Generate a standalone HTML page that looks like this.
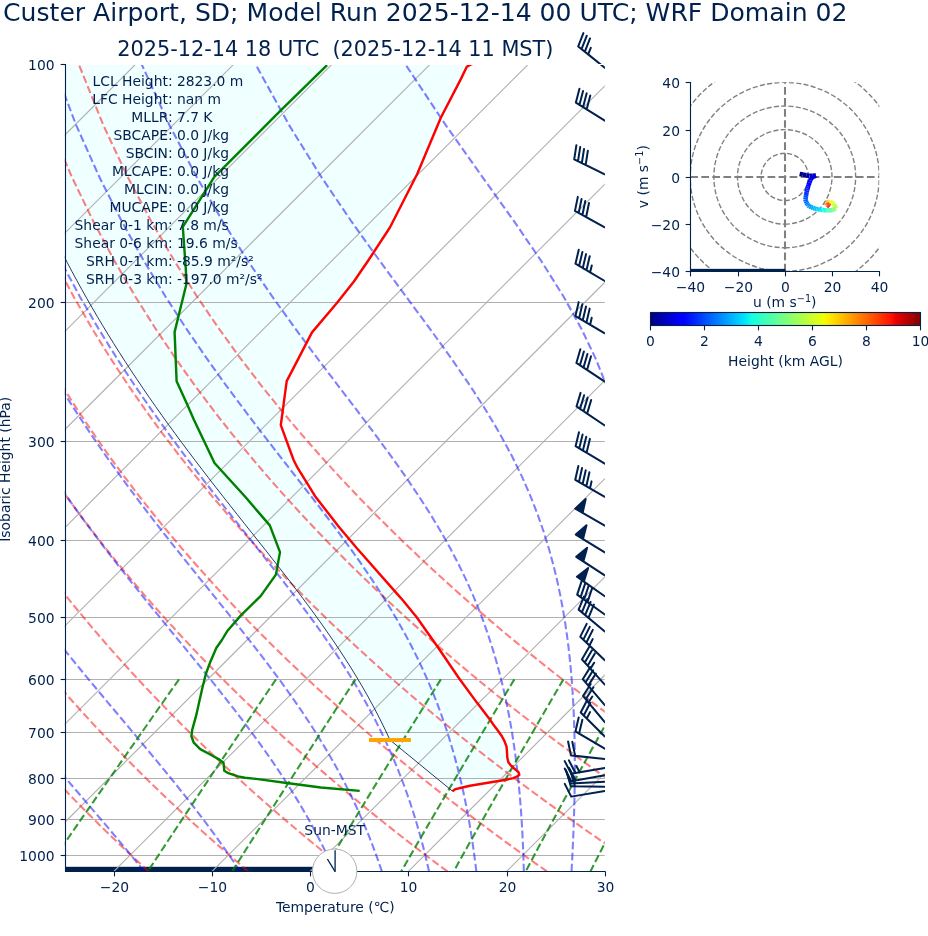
<!DOCTYPE html>
<html><head><meta charset="utf-8"><title>Skew-T</title><style>html,body{margin:0;padding:0;background:#fff;width:928px;height:936px;overflow:hidden}svg{display:block}</style></head><body>
<svg width="928" height="936" viewBox="0 0 928 936" font-family="'DejaVu Sans', 'Liberation Sans', sans-serif"><rect width="928" height="936" fill="#ffffff"/><defs><clipPath id="cs"><rect x="64.77" y="64.34" width="540" height="807.11"/></clipPath><clipPath id="cb"><rect x="550.77" y="-0.25" width="108" height="936.31"/></clipPath><clipPath id="ch"><rect x="690.2" y="82.4" width="189.1" height="188.5"/></clipPath></defs>
<g clip-path="url(#cs)">
<path d="M480 61.5 L474.4 63.33 L469.56 65.16 L466.71 66.99 L465.82 68.82 L464.94 70.64 L464.05 72.47 L463.17 74.3 L462.28 76.13 L461.4 77.96 L460.5 79.79 L459.55 81.62 L458.6 83.45 L457.65 85.27 L456.7 87.1 L455.75 88.93 L454.8 90.76 L453.85 92.59 L452.9 94.42 L451.95 96.25 L451 98.08 L450.05 99.91 L449.1 101.73 L448.15 103.56 L447.2 105.39 L446.24 107.22 L445.29 109.05 L444.34 110.88 L443.39 112.71 L442.44 114.54 L441.49 116.36 L440.59 118.19 L439.83 120.02 L439.06 121.85 L438.3 123.68 L437.53 125.51 L436.76 127.34 L436 129.17 L435.23 131 L434.47 132.82 L433.7 134.65 L432.94 136.48 L432.17 138.31 L431.4 140.14 L430.64 141.97 L429.87 143.8 L429.11 145.63 L428.34 147.45 L427.58 149.28 L426.81 151.11 L426.04 152.94 L425.28 154.77 L424.51 156.6 L423.75 158.43 L422.98 160.26 L422.21 162.09 L421.45 163.91 L420.68 165.74 L419.92 167.57 L419.15 169.4 L418.39 171.23 L417.62 173.06 L416.8 174.89 L415.86 176.72 L414.93 178.54 L413.99 180.37 L413.06 182.2 L412.12 184.03 L411.19 185.86 L410.25 187.69 L409.32 189.52 L408.38 191.35 L407.45 193.18 L406.51 195 L405.58 196.83 L404.64 198.66 L403.71 200.49 L402.77 202.32 L401.84 204.15 L400.9 205.98 L399.97 207.81 L399.03 209.63 L398.1 211.46 L397.16 213.29 L396.23 215.12 L395.29 216.95 L394.36 218.78 L393.42 220.61 L392.49 222.44 L391.55 224.27 L390.62 226.09 L389.62 227.92 L388.42 229.75 L387.23 231.58 L386.03 233.41 L384.83 235.24 L383.63 237.07 L382.43 238.9 L381.23 240.72 L380.03 242.55 L378.84 244.38 L377.64 246.21 L376.44 248.04 L375.24 249.87 L374.04 251.7 L372.84 253.53 L371.64 255.36 L370.45 257.18 L369.25 259.01 L368.02 260.84 L366.77 262.67 L365.52 264.5 L364.27 266.33 L363.02 268.16 L361.77 269.99 L360.52 271.81 L359.27 273.64 L358.02 275.47 L356.77 277.3 L355.52 279.13 L354.27 280.96 L352.88 282.79 L351.44 284.62 L349.99 286.45 L348.54 288.27 L347.1 290.1 L345.65 291.93 L344.21 293.76 L342.76 295.59 L341.31 297.42 L339.87 299.25 L338.42 301.08 L336.98 302.9 L335.43 304.73 L333.88 306.56 L332.33 308.39 L330.79 310.22 L329.24 312.05 L327.69 313.88 L326.14 315.71 L324.59 317.54 L323.04 319.36 L321.49 321.19 L319.94 323.02 L318.39 324.85 L316.85 326.68 L315.3 328.51 L313.75 330.34 L312.2 332.17 L311.17 333.99 L310.22 335.82 L309.27 337.65 L308.32 339.48 L307.37 341.31 L306.42 343.14 L305.47 344.97 L304.52 346.8 L303.57 348.63 L302.62 350.45 L301.67 352.28 L300.72 354.11 L299.77 355.94 L298.82 357.77 L297.87 359.6 L296.92 361.43 L295.97 363.26 L295.02 365.08 L294.07 366.91 L293.12 368.74 L292.17 370.57 L291.22 372.4 L290.27 374.23 L289.32 376.06 L288.37 377.89 L287.42 379.72 L286.64 381.54 L286.4 383.37 L286.15 385.2 L285.91 387.03 L285.66 388.86 L285.42 390.69 L285.17 392.52 L284.93 394.35 L284.68 396.17 L284.44 398 L284.19 399.83 L283.95 401.66 L283.7 403.49 L283.46 405.32 L283.22 407.15 L282.97 408.98 L282.73 410.81 L282.48 412.63 L282.24 414.46 L281.99 416.29 L281.75 418.12 L281.5 419.95 L281.26 421.78 L281.01 423.61 L280.89 425.44 L281.56 427.26 L282.23 429.09 L282.9 430.92 L283.58 432.75 L284.25 434.58 L284.92 436.41 L285.6 438.24 L286.27 440.07 L286.94 441.89 L287.61 443.72 L288.29 445.55 L288.96 447.38 L289.63 449.21 L290.3 451.04 L290.98 452.87 L291.65 454.7 L292.32 456.53 L292.99 458.35 L293.69 460.18 L294.61 462.01 L295.52 463.84 L296.43 465.67 L297.43 467.5 L298.56 469.33 L299.68 471.16 L300.81 472.98 L301.93 474.81 L303.06 476.64 L304.19 478.47 L305.31 480.3 L306.44 482.13 L307.56 483.96 L308.69 485.79 L309.82 487.62 L310.94 489.44 L312.07 491.27 L313.19 493.1 L314.32 494.93 L315.53 496.76 L316.95 498.59 L318.37 500.42 L319.78 502.25 L321.2 504.07 L322.62 505.9 L324.03 507.73 L325.45 509.56 L326.86 511.39 L328.28 513.22 L329.7 515.05 L331.11 516.88 L332.53 518.71 L333.95 520.53 L335.36 522.36 L336.78 524.19 L338.2 526.02 L339.68 527.85 L341.22 529.68 L342.76 531.51 L344.3 533.34 L345.84 535.16 L347.38 536.99 L348.92 538.82 L350.46 540.65 L352 542.48 L353.54 544.31 L355.08 546.14 L356.62 547.97 L358.22 549.8 L359.84 551.62 L361.45 553.45 L363.07 555.28 L364.68 557.11 L366.29 558.94 L367.91 560.77 L369.52 562.6 L371.14 564.43 L372.75 566.25 L374.37 568.08 L375.98 569.91 L377.6 571.74 L379.21 573.57 L380.83 575.4 L382.44 577.23 L384.06 579.06 L385.67 580.89 L387.29 582.71 L388.9 584.54 L390.52 586.37 L392.13 588.2 L393.75 590.03 L395.36 591.86 L396.98 593.69 L398.61 595.52 L400.24 597.34 L401.86 599.17 L403.42 601 L404.91 602.83 L406.4 604.66 L407.89 606.49 L409.38 608.32 L410.87 610.15 L412.36 611.98 L413.85 613.8 L415.34 615.63 L416.81 617.46 L418.11 619.29 L419.41 621.12 L420.71 622.95 L422 624.78 L423.3 626.61 L424.6 628.43 L425.9 630.26 L427.19 632.09 L428.49 633.92 L429.79 635.75 L431.08 637.58 L432.38 639.41 L433.68 641.24 L434.98 643.07 L436.27 644.89 L437.56 646.72 L438.8 648.55 L440.05 650.38 L441.29 652.21 L442.54 654.04 L443.79 655.87 L445.03 657.7 L446.28 659.52 L447.52 661.35 L448.77 663.18 L450.02 665.01 L451.26 666.84 L452.51 668.67 L453.75 670.5 L455 672.33 L456.24 674.16 L457.49 675.98 L458.74 677.81 L460.06 679.64 L461.4 681.47 L462.74 683.3 L464.08 685.13 L465.42 686.96 L466.77 688.79 L468.11 690.61 L469.45 692.44 L470.79 694.27 L472.13 696.1 L473.47 697.93 L474.82 699.76 L476.16 701.59 L477.53 703.42 L478.94 705.25 L480.35 707.07 L481.76 708.9 L483.17 710.73 L484.58 712.56 L485.99 714.39 L487.4 716.22 L488.81 718.05 L490.15 719.88 L491.38 721.7 L492.61 723.53 L493.84 725.36 L495.22 727.19 L496.63 729.02 L498.03 730.85 L499.34 732.68 L500.64 734.51 L501.88 736.34 L502.87 738.16 L503.85 739.99 L504.74 741.82 L505.44 743.65 L506.15 745.48 L506.58 747.31 L506.74 749.14 L506.9 750.97 L507.04 752.79 L507.14 754.62 L507.23 756.45 L507.45 758.28 L507.9 760.11 L508.36 761.94 L509.51 763.77 L510.98 765.6 L512.86 767.43 L515.14 769.25 L517.31 771.08 L518.73 772.91 L519.25 774.74 L516.74 776.57 L511.96 778.4 L502.91 780.23 L491.86 782.06 L480.89 783.88 L469.94 785.71 L462.12 787.54 L455.19 789.37 L452.4 791.2 L452.5 791.2 L450.27 789.37 L448.04 787.54 L445.8 785.71 L443.57 783.88 L441.34 782.06 L439.11 780.23 L436.87 778.4 L434.64 776.57 L432.41 774.74 L430.18 772.91 L427.94 771.08 L425.71 769.25 L423.48 767.43 L421.25 765.6 L419.01 763.77 L416.78 761.94 L414.55 760.11 L412.32 758.28 L410.08 756.45 L407.85 754.62 L405.62 752.79 L403.39 750.97 L401.15 749.14 L398.92 747.31 L396.69 745.48 L394.46 743.65 L392.22 741.82 L390 739.99 L389.14 738.16 L388.29 736.34 L387.43 734.51 L386.58 732.68 L385.72 730.85 L384.83 729.02 L383.94 727.19 L383.04 725.36 L382.15 723.53 L381.25 721.7 L380.32 719.88 L379.39 718.05 L378.46 716.22 L377.53 714.39 L376.59 712.56 L375.62 710.73 L374.65 708.9 L373.68 707.07 L372.71 705.25 L371.73 703.42 L370.72 701.59 L369.71 699.76 L368.7 697.93 L367.69 696.1 L366.67 694.27 L365.62 692.44 L364.58 690.61 L363.53 688.79 L362.48 686.96 L361.42 685.13 L360.33 683.3 L359.25 681.47 L358.16 679.64 L357.07 677.81 L355.97 675.98 L354.85 674.16 L353.72 672.33 L352.6 670.5 L351.48 668.67 L350.33 666.84 L349.17 665.01 L348.01 663.18 L346.85 661.35 L345.7 659.52 L344.51 657.7 L343.32 655.87 L342.12 654.04 L340.93 652.21 L339.73 650.38 L338.51 648.55 L337.28 646.72 L336.05 644.89 L334.83 643.07 L333.6 641.24 L332.34 639.41 L331.08 637.58 L329.82 635.75 L328.56 633.92 L327.3 632.09 L326.01 630.26 L324.72 628.43 L323.43 626.61 L322.14 624.78 L320.84 622.95 L319.53 621.12 L318.21 619.29 L316.89 617.46 L315.57 615.63 L314.25 613.8 L312.9 611.98 L311.56 610.15 L310.21 608.32 L308.87 606.49 L307.52 604.66 L306.15 602.83 L304.79 601 L303.42 599.17 L302.05 597.34 L300.68 595.52 L299.29 593.69 L297.9 591.86 L296.51 590.03 L295.12 588.2 L293.73 586.37 L292.33 584.54 L290.92 582.71 L289.51 580.89 L288.11 579.06 L286.7 577.23 L285.28 575.4 L283.86 573.57 L282.44 571.74 L281.01 569.91 L279.59 568.08 L278.16 566.25 L276.72 564.43 L275.29 562.6 L273.86 560.77 L272.42 558.94 L270.98 557.11 L269.54 555.28 L268.1 553.45 L266.66 551.62 L265.21 549.8 L263.77 547.97 L262.32 546.14 L260.87 544.31 L259.42 542.48 L257.97 540.65 L256.52 538.82 L255.07 536.99 L253.62 535.16 L252.17 533.34 L250.72 531.51 L249.27 529.68 L247.82 527.85 L246.37 526.02 L244.91 524.19 L243.46 522.36 L242.01 520.53 L240.56 518.71 L239.11 516.88 L237.66 515.05 L236.22 513.22 L234.77 511.39 L233.33 509.56 L231.88 507.73 L230.43 505.9 L228.99 504.07 L227.55 502.25 L226.11 500.42 L224.67 498.59 L223.24 496.76 L221.8 494.93 L220.37 493.1 L218.94 491.27 L217.51 489.44 L216.08 487.62 L214.66 485.79 L213.23 483.96 L211.81 482.13 L210.39 480.3 L208.97 478.47 L207.56 476.64 L206.15 474.81 L204.74 472.98 L203.33 471.16 L201.92 469.33 L200.53 467.5 L199.13 465.67 L197.73 463.84 L196.34 462.01 L194.94 460.18 L193.56 458.35 L192.18 456.53 L190.79 454.7 L189.41 452.87 L188.03 451.04 L186.67 449.21 L185.3 447.38 L183.93 445.55 L182.57 443.72 L181.21 441.89 L179.85 440.07 L178.5 438.24 L177.15 436.41 L175.8 434.58 L174.46 432.75 L173.13 430.92 L171.79 429.09 L170.46 427.26 L169.13 425.44 L167.8 423.61 L166.49 421.78 L165.17 419.95 L163.86 418.12 L162.54 416.29 L161.24 414.46 L159.94 412.63 L158.65 410.81 L157.35 408.98 L156.05 407.15 L154.77 405.32 L153.49 403.49 L152.22 401.66 L150.94 399.83 L149.66 398 L148.4 396.17 L147.14 394.35 L145.89 392.52 L144.63 390.69 L143.37 388.86 L142.13 387.03 L140.89 385.2 L139.66 383.37 L138.42 381.54 L137.18 379.72 L135.96 377.89 L134.75 376.06 L133.53 374.23 L132.31 372.4 L131.1 370.57 L129.9 368.74 L128.7 366.91 L127.51 365.08 L126.31 363.26 L125.12 361.43 L123.94 359.6 L122.76 357.77 L121.59 355.94 L120.41 354.11 L119.24 352.28 L118.09 350.45 L116.93 348.63 L115.78 346.8 L114.62 344.97 L113.47 343.14 L112.34 341.31 L111.21 339.48 L110.07 337.65 L108.94 335.82 L107.81 333.99 L106.7 332.17 L105.59 330.34 L104.47 328.51 L103.36 326.68 L102.26 324.85 L101.16 323.02 L100.07 321.19 L98.98 319.36 L97.89 317.54 L96.81 315.71 L95.74 313.88 L94.67 312.05 L93.6 310.22 L92.53 308.39 L91.47 306.56 L90.42 304.73 L89.37 302.9 L88.32 301.08 L87.27 299.25 L86.23 297.42 L85.21 295.59 L84.18 293.76 L83.15 291.93 L82.12 290.1 L81.11 288.27 L80.1 286.45 L79.09 284.62 L78.08 282.79 L77.08 280.96 L76.08 279.13 L75.1 277.3 L74.11 275.47 L73.12 273.64 L72.14 271.81 L71.17 269.99 L70.2 268.16 L69.24 266.33 L68.27 264.5 L67.3 262.67 L66.36 260.84 L65.41 259.01 L64.47 257.18 L63.52 255.36 L62.58 253.53 L61.65 251.7 L60.73 249.87 L59.8 248.04 L58.88 246.21 L57.95 244.38 L57.05 242.55 L56.14 240.72 L55.24 238.9 L54.34 237.07 L53.43 235.24 L52.55 233.41 L51.67 231.58 L50.78 229.75 L49.9 227.92 L49.02 226.09 L48.15 224.27 L47.29 222.44 L46.43 220.61 L45.56 218.78 L44.7 216.95 L43.86 215.12 L43.02 213.29 L42.17 211.46 L41.33 209.63 L40.49 207.81 L39.67 205.98 L38.84 204.15 L38.02 202.32 L37.19 200.49 L36.38 198.66 L35.57 196.83 L34.77 195 L33.97 193.18 L33.16 191.35 L32.37 189.52 L31.58 187.69 L30.8 185.86 L30.01 184.03 L29.23 182.2 L28.46 180.37 L27.69 178.54 L26.93 176.72 L26.16 174.89 L25.4 173.06 L24.64 171.23 L23.9 169.4 L23.15 167.57 L22.41 165.74 L21.66 163.91 L20.93 162.09 L20.2 160.26 L19.47 158.43 L18.75 156.6 L18.02 154.77 L17.31 152.94 L16.6 151.11 L15.9 149.28 L15.19 147.45 L14.48 145.63 L13.79 143.8 L13.1 141.97 L12.41 140.14 L11.72 138.31 L11.04 136.48 L10.36 134.65 L9.69 132.82 L9.03 131 L8.36 129.17 L7.69 127.34 L7.03 125.51 L6.38 123.68 L5.73 121.85 L5.08 120.02 L4.43 118.19 L3.8 116.36 L3.17 114.54 L2.53 112.71 L1.9 110.88 L1.27 109.05 L0.66 107.22 L0.04 105.39 L-0.57 103.56 L-1.18 101.73 L-1.79 99.91 L-2.39 98.08 L-2.99 96.25 L-3.58 94.42 L-4.18 92.59 L-4.77 90.76 L-5.35 88.93 L-5.92 87.1 L-6.5 85.27 L-7.08 83.45 L-7.65 81.62 L-8.21 79.79 L-8.77 77.96 L-9.33 76.13 L-9.89 74.3 L-10.44 72.47 L-10.98 70.64 L-11.53 68.82 L-12.07 66.99 L-12.61 65.16 L-13.14 63.33 L-13.67 61.5Z" fill="#f0ffff" stroke="none"/>
<rect x="65.5" y="866.8" width="269.2" height="4.7" fill="#00204e"/>
<path d="M-769.78 871.45 L37.33 64.34" fill="none" stroke="#b0b0b0" stroke-width="1.11" />
<path d="M-671.59 871.45 L135.52 64.34" fill="none" stroke="#b0b0b0" stroke-width="1.11" />
<path d="M-573.41 871.45 L233.7 64.34" fill="none" stroke="#b0b0b0" stroke-width="1.11" />
<path d="M-475.23 871.45 L331.88 64.34" fill="none" stroke="#b0b0b0" stroke-width="1.11" />
<path d="M-377.05 871.45 L430.06 64.34" fill="none" stroke="#b0b0b0" stroke-width="1.11" />
<path d="M-278.87 871.45 L528.24 64.34" fill="none" stroke="#b0b0b0" stroke-width="1.11" />
<path d="M-180.68 871.45 L626.43 64.34" fill="none" stroke="#b0b0b0" stroke-width="1.11" />
<path d="M-82.5 871.45 L724.61 64.34" fill="none" stroke="#b0b0b0" stroke-width="1.11" />
<path d="M15.68 871.45 L822.79 64.34" fill="none" stroke="#b0b0b0" stroke-width="1.11" />
<path d="M113.86 871.45 L920.97 64.34" fill="none" stroke="#b0b0b0" stroke-width="1.11" />
<path d="M212.04 871.45 L1019.15 64.34" fill="none" stroke="#b0b0b0" stroke-width="1.11" />
<path d="M310.22 871.45 L1117.33 64.34" fill="none" stroke="#b0b0b0" stroke-width="1.11" />
<path d="M408.41 871.45 L1215.52 64.34" fill="none" stroke="#b0b0b0" stroke-width="1.11" />
<path d="M506.59 871.45 L1313.7 64.34" fill="none" stroke="#b0b0b0" stroke-width="1.11" />
<path d="M604.77 871.45 L1411.88 64.34" fill="none" stroke="#b0b0b0" stroke-width="1.11" />
<path d="M65.5 64.5 L605.5 64.5" fill="none" stroke="#b0b0b0" stroke-width="1.11" />
<path d="M65.5 302.5 L605.5 302.5" fill="none" stroke="#b0b0b0" stroke-width="1.11" />
<path d="M65.5 441.5 L605.5 441.5" fill="none" stroke="#b0b0b0" stroke-width="1.11" />
<path d="M65.5 540.5 L605.5 540.5" fill="none" stroke="#b0b0b0" stroke-width="1.11" />
<path d="M65.5 617.5 L605.5 617.5" fill="none" stroke="#b0b0b0" stroke-width="1.11" />
<path d="M65.5 679.5 L605.5 679.5" fill="none" stroke="#b0b0b0" stroke-width="1.11" />
<path d="M65.5 732.5 L605.5 732.5" fill="none" stroke="#b0b0b0" stroke-width="1.11" />
<path d="M65.5 778.5 L605.5 778.5" fill="none" stroke="#b0b0b0" stroke-width="1.11" />
<path d="M65.5 819.5 L605.5 819.5" fill="none" stroke="#b0b0b0" stroke-width="1.11" />
<path d="M65.5 855.5 L605.5 855.5" fill="none" stroke="#b0b0b0" stroke-width="1.11" />
</g>
<g clip-path="url(#cs)">
<path d="M-50.37 871.45 L-56.3 865.06 L-62.27 858.54 L-68.3 851.89 L-74.37 845.12 L-80.48 838.21 L-86.65 831.15 L-92.86 823.95 L-99.13 816.59 L-105.44 809.07 L-111.81 801.39 L-118.23 793.52 L-124.71 785.48 L-131.24 777.24 L-137.83 768.79 L-144.47 760.14 L-151.17 751.26 L-157.93 742.14 L-164.75 732.78 L-171.63 723.15 L-178.57 713.25 L-185.57 703.05 L-192.64 692.54 L-199.77 681.69 L-206.96 670.5 L-214.21 658.92 L-221.53 646.94 L-228.91 634.53 L-236.35 621.65 L-243.85 608.27 L-251.41 594.35 L-259.03 579.84 L-266.7 564.69 L-274.42 548.84 L-282.18 532.22 L-289.97 514.75 L-297.79 496.35 L-305.62 476.91 L-313.44 456.3 L-321.23 434.37 L-328.96 410.94 L-336.58 385.8 L-344.05 358.66 L-351.28 329.2 L-358.18 296.97 L-364.59 261.4 L-370.29 221.71 L-374.97 176.82 L-378.12 125.17 L-378.86 64.34" fill="none" stroke="#ff0000" stroke-width="2.08" stroke-dasharray="7.71 3.33" stroke-opacity="0.5" />
<path d="M49.19 871.45 L42.73 865.06 L36.22 858.54 L29.66 851.89 L23.04 845.12 L16.36 838.21 L9.63 831.15 L2.84 823.95 L-4.01 816.59 L-10.92 809.07 L-17.89 801.39 L-24.93 793.52 L-32.02 785.48 L-39.19 777.24 L-46.42 768.79 L-53.72 760.14 L-61.09 751.26 L-68.53 742.14 L-76.04 732.78 L-83.63 723.15 L-91.29 713.25 L-99.04 703.05 L-106.85 692.54 L-114.75 681.69 L-122.73 670.5 L-130.79 658.92 L-138.94 646.94 L-147.17 634.53 L-155.48 621.65 L-163.88 608.27 L-172.36 594.35 L-180.93 579.84 L-189.57 564.69 L-198.3 548.84 L-207.11 532.22 L-215.99 514.75 L-224.93 496.35 L-233.93 476.91 L-242.97 456.3 L-252.03 434.37 L-261.1 410.94 L-270.13 385.8 L-279.08 358.66 L-287.88 329.2 L-296.46 296.97 L-304.67 261.4 L-312.32 221.71 L-319.13 176.82 L-324.62 125.17 L-328.01 64.34" fill="none" stroke="#ff0000" stroke-width="2.08" stroke-dasharray="7.71 3.33" stroke-opacity="0.5" />
<path d="M148.75 871.45 L141.76 865.06 L134.72 858.54 L127.61 851.89 L120.44 845.12 L113.2 838.21 L105.9 831.15 L98.54 823.95 L91.11 816.59 L83.6 809.07 L76.03 801.39 L68.38 793.52 L60.66 785.48 L52.86 777.24 L44.99 768.79 L37.03 760.14 L28.99 751.26 L20.87 742.14 L12.66 732.78 L4.37 723.15 L-4.02 713.25 L-12.5 703.05 L-21.07 692.54 L-29.74 681.69 L-38.51 670.5 L-47.38 658.92 L-56.35 646.94 L-65.43 634.53 L-74.61 621.65 L-83.9 608.27 L-93.31 594.35 L-102.82 579.84 L-112.45 564.69 L-122.19 548.84 L-132.04 532.22 L-142 514.75 L-152.07 496.35 L-162.24 476.91 L-172.5 456.3 L-182.84 434.37 L-193.24 410.94 L-203.67 385.8 L-214.11 358.66 L-224.49 329.2 L-234.74 296.97 L-244.75 261.4 L-254.35 221.71 L-263.29 176.82 L-271.13 125.17 L-277.16 64.34" fill="none" stroke="#ff0000" stroke-width="2.08" stroke-dasharray="7.71 3.33" stroke-opacity="0.5" />
<path d="M248.31 871.45 L240.79 865.06 L233.21 858.54 L225.56 851.89 L217.84 845.12 L210.05 838.21 L202.18 831.15 L194.24 823.95 L186.22 816.59 L178.12 809.07 L169.95 801.39 L161.69 793.52 L153.34 785.48 L144.91 777.24 L136.39 768.79 L127.78 760.14 L119.07 751.26 L110.27 742.14 L101.37 732.78 L92.36 723.15 L83.26 713.25 L74.04 703.05 L64.71 692.54 L55.27 681.69 L45.72 670.5 L36.04 658.92 L26.24 646.94 L16.32 634.53 L6.26 621.65 L-3.93 608.27 L-14.25 594.35 L-24.72 579.84 L-35.33 564.69 L-46.08 548.84 L-56.97 532.22 L-68.02 514.75 L-79.21 496.35 L-90.55 476.91 L-102.03 456.3 L-113.64 434.37 L-125.38 410.94 L-137.22 385.8 L-149.14 358.66 L-161.09 329.2 L-173.02 296.97 L-184.84 261.4 L-196.38 221.71 L-207.44 176.82 L-217.63 125.17 L-226.3 64.34" fill="none" stroke="#ff0000" stroke-width="2.08" stroke-dasharray="7.71 3.33" stroke-opacity="0.5" />
<path d="M347.87 871.45 L339.83 865.06 L331.71 858.54 L323.51 851.89 L315.24 845.12 L306.89 838.21 L298.45 831.15 L289.94 823.95 L281.34 816.59 L272.65 809.07 L263.87 801.39 L254.99 793.52 L246.03 785.48 L236.96 777.24 L227.8 768.79 L218.53 760.14 L209.15 751.26 L199.67 742.14 L190.07 732.78 L180.36 723.15 L170.53 713.25 L160.58 703.05 L150.5 692.54 L140.29 681.69 L129.94 670.5 L119.46 658.92 L108.83 646.94 L98.06 634.53 L87.13 621.65 L76.04 608.27 L64.8 594.35 L53.38 579.84 L41.8 564.69 L30.04 548.84 L18.09 532.22 L5.97 514.75 L-6.35 496.35 L-18.86 476.91 L-31.56 456.3 L-44.44 434.37 L-57.52 410.94 L-70.76 385.8 L-84.17 358.66 L-97.7 329.2 L-111.31 296.97 L-124.92 261.4 L-138.41 221.71 L-151.6 176.82 L-164.14 125.17 L-175.45 64.34" fill="none" stroke="#ff0000" stroke-width="2.08" stroke-dasharray="7.71 3.33" stroke-opacity="0.5" />
<path d="M447.43 871.45 L438.86 865.06 L430.2 858.54 L421.46 851.89 L412.64 845.12 L403.73 838.21 L394.73 831.15 L385.64 823.95 L376.45 816.59 L367.17 809.07 L357.79 801.39 L348.3 793.52 L338.71 785.48 L329.01 777.24 L319.2 768.79 L309.28 760.14 L299.24 751.26 L289.07 742.14 L278.78 732.78 L268.36 723.15 L257.81 713.25 L247.12 703.05 L236.28 692.54 L225.3 681.69 L214.17 670.5 L202.88 658.92 L191.42 646.94 L179.8 634.53 L168 621.65 L156.02 608.27 L143.85 594.35 L131.49 579.84 L118.92 564.69 L106.15 548.84 L93.16 532.22 L79.95 514.75 L66.51 496.35 L52.83 476.91 L38.91 456.3 L24.75 434.37 L10.34 410.94 L-4.31 385.8 L-19.2 358.66 L-34.3 329.2 L-49.59 296.97 L-65 261.4 L-80.44 221.71 L-95.75 176.82 L-110.65 125.17 L-124.6 64.34" fill="none" stroke="#ff0000" stroke-width="2.08" stroke-dasharray="7.71 3.33" stroke-opacity="0.5" />
<path d="M546.99 871.45 L537.89 865.06 L528.7 858.54 L519.42 851.89 L510.04 845.12 L500.57 838.21 L491.01 831.15 L481.34 823.95 L471.57 816.59 L461.69 809.07 L451.71 801.39 L441.61 793.52 L431.39 785.48 L421.06 777.24 L410.61 768.79 L400.03 760.14 L389.32 751.26 L378.47 742.14 L367.49 732.78 L356.36 723.15 L345.08 713.25 L333.65 703.05 L322.07 692.54 L310.31 681.69 L298.39 670.5 L286.29 658.92 L274.01 646.94 L261.54 634.53 L248.87 621.65 L235.99 608.27 L222.9 594.35 L209.59 579.84 L196.05 564.69 L182.26 548.84 L168.23 532.22 L153.93 514.75 L139.37 496.35 L124.52 476.91 L109.38 456.3 L93.95 434.37 L78.2 410.94 L62.14 385.8 L45.77 358.66 L29.1 329.2 L12.13 296.97 L-5.08 261.4 L-22.47 221.71 L-39.91 176.82 L-57.15 125.17 L-73.75 64.34" fill="none" stroke="#ff0000" stroke-width="2.08" stroke-dasharray="7.71 3.33" stroke-opacity="0.5" />
<path d="M646.55 871.45 L636.92 865.06 L627.19 858.54 L617.37 851.89 L607.44 845.12 L597.42 838.21 L587.28 831.15 L577.04 823.95 L566.68 816.59 L556.21 809.07 L545.63 801.39 L534.91 793.52 L524.08 785.48 L513.11 777.24 L502.01 768.79 L490.78 760.14 L479.4 751.26 L467.87 742.14 L456.19 732.78 L444.36 723.15 L432.36 713.25 L420.19 703.05 L407.85 692.54 L395.33 681.69 L382.62 670.5 L369.71 658.92 L356.6 646.94 L343.28 634.53 L329.74 621.65 L315.96 608.27 L301.95 594.35 L287.69 579.84 L273.17 564.69 L258.38 548.84 L243.3 532.22 L227.92 514.75 L212.23 496.35 L196.21 476.91 L179.85 456.3 L163.14 434.37 L146.06 410.94 L128.6 385.8 L110.74 358.66 L92.49 329.2 L73.85 296.97 L54.83 261.4 L35.5 221.71 L15.93 176.82 L-3.66 125.17 L-22.89 64.34" fill="none" stroke="#ff0000" stroke-width="2.08" stroke-dasharray="7.71 3.33" stroke-opacity="0.5" />
<path d="M746.11 871.45 L735.95 865.06 L725.69 858.54 L715.32 851.89 L704.84 845.12 L694.26 838.21 L683.56 831.15 L672.74 823.95 L661.8 816.59 L650.74 809.07 L639.54 801.39 L628.22 793.52 L616.76 785.48 L605.16 777.24 L593.42 768.79 L581.53 760.14 L569.48 751.26 L557.27 742.14 L544.9 732.78 L532.36 723.15 L519.64 713.25 L506.73 703.05 L493.64 692.54 L480.34 681.69 L466.84 670.5 L453.13 658.92 L439.19 646.94 L425.02 634.53 L410.61 621.65 L395.94 608.27 L381.01 594.35 L365.8 579.84 L350.29 564.69 L334.49 548.84 L318.36 532.22 L301.9 514.75 L285.09 496.35 L267.9 476.91 L250.32 456.3 L232.34 434.37 L213.92 410.94 L195.05 385.8 L175.71 358.66 L155.89 329.2 L135.57 296.97 L114.75 261.4 L93.47 221.71 L71.78 176.82 L49.84 125.17 L27.96 64.34" fill="none" stroke="#ff0000" stroke-width="2.08" stroke-dasharray="7.71 3.33" stroke-opacity="0.5" />
<path d="M845.67 871.45 L834.98 865.06 L824.18 858.54 L813.27 851.89 L802.25 845.12 L791.1 838.21 L779.83 831.15 L768.44 823.95 L756.91 816.59 L745.26 809.07 L733.46 801.39 L721.53 793.52 L709.45 785.48 L697.21 777.24 L684.83 768.79 L672.28 760.14 L659.56 751.26 L646.67 742.14 L633.61 732.78 L620.35 723.15 L606.91 713.25 L593.27 703.05 L579.42 692.54 L565.35 681.69 L551.07 670.5 L536.54 658.92 L521.78 646.94 L506.76 634.53 L491.47 621.65 L475.91 608.27 L460.06 594.35 L443.9 579.84 L427.42 564.69 L410.6 548.84 L393.43 532.22 L375.89 514.75 L357.95 496.35 L339.59 476.91 L320.79 456.3 L301.53 434.37 L281.78 410.94 L261.51 385.8 L240.68 358.66 L219.28 329.2 L197.28 296.97 L174.67 261.4 L151.44 221.71 L127.62 176.82 L103.33 125.17 L78.81 64.34" fill="none" stroke="#ff0000" stroke-width="2.08" stroke-dasharray="7.71 3.33" stroke-opacity="0.5" />
<path d="M-51.25 871.45 L-56.82 865.06 L-62.46 858.54 L-68.17 851.89 L-73.96 845.12 L-79.82 838.21 L-85.75 831.15 L-91.75 823.95 L-97.83 816.59 L-103.98 809.07 L-110.2 801.39 L-116.49 793.52 L-122.85 785.48 L-129.28 777.24 L-135.78 768.79 L-142.35 760.14 L-148.99 751.26 L-155.7 742.14 L-162.48 732.78 L-169.33 723.15 L-176.25 713.25 L-183.23 703.05 L-190.29 692.54 L-197.41 681.69 L-204.6 670.5 L-211.86 658.92 L-219.19 646.94 L-226.58 634.53 L-234.04 621.65 L-241.56 608.27 L-249.15 594.35 L-256.79 579.84 L-264.48 564.69 L-272.23 548.84 L-280.02 532.22 L-287.84 514.75 L-295.69 496.35 L-303.55 476.91 L-311.41 456.3 L-319.23 434.37 L-327 410.94 L-334.66 385.8 L-342.17 358.66 L-349.45 329.2 L-356.4 296.97 L-362.86 261.4 L-368.62 221.71 L-373.37 176.82 L-376.57 125.17 L-377.4 64.34" fill="none" stroke="#0000ff" stroke-width="2.08" stroke-dasharray="7.71 3.33" stroke-opacity="0.5" />
<path d="M47.06 871.45 L41.47 865.06 L35.78 858.54 L29.97 851.89 L24.05 845.12 L18.02 838.21 L11.89 831.15 L5.64 823.95 L-0.71 816.59 L-7.17 809.07 L-13.74 801.39 L-20.41 793.52 L-27.18 785.48 L-34.06 777.24 L-41.05 768.79 L-48.13 760.14 L-55.32 751.26 L-62.6 742.14 L-69.99 732.78 L-77.47 723.15 L-85.06 713.25 L-92.74 703.05 L-100.51 692.54 L-108.39 681.69 L-116.36 670.5 L-124.42 658.92 L-132.59 646.94 L-140.84 634.53 L-149.19 621.65 L-157.63 608.27 L-166.17 594.35 L-174.8 579.84 L-183.51 564.69 L-192.31 548.84 L-201.19 532.22 L-210.15 514.75 L-219.18 496.35 L-228.27 476.91 L-237.41 456.3 L-246.57 434.37 L-255.74 410.94 L-264.88 385.8 L-273.95 358.66 L-282.88 329.2 L-291.59 296.97 L-299.94 261.4 L-307.75 221.71 L-314.72 176.82 L-320.4 125.17 L-324 64.34" fill="none" stroke="#0000ff" stroke-width="2.08" stroke-dasharray="7.71 3.33" stroke-opacity="0.5" />
<path d="M144.24 871.45 L139.08 865.06 L133.76 858.54 L128.29 851.89 L122.66 845.12 L116.88 838.21 L110.94 831.15 L104.84 823.95 L98.58 816.59 L92.16 809.07 L85.59 801.39 L78.85 793.52 L71.95 785.48 L64.9 777.24 L57.68 768.79 L50.31 760.14 L42.79 751.26 L35.11 742.14 L27.29 732.78 L19.31 723.15 L11.18 713.25 L2.91 703.05 L-5.51 692.54 L-14.07 681.69 L-22.77 670.5 L-31.61 658.92 L-40.59 646.94 L-49.7 634.53 L-58.95 621.65 L-68.34 608.27 L-77.85 594.35 L-87.5 579.84 L-97.28 564.69 L-107.19 548.84 L-117.23 532.22 L-127.38 514.75 L-137.66 496.35 L-148.05 476.91 L-158.55 456.3 L-169.14 434.37 L-179.8 410.94 L-190.51 385.8 L-201.24 358.66 L-211.93 329.2 L-222.52 296.97 L-232.89 261.4 L-242.87 221.71 L-252.23 176.82 L-260.53 125.17 L-267.09 64.34" fill="none" stroke="#0000ff" stroke-width="2.08" stroke-dasharray="7.71 3.33" stroke-opacity="0.5" />
<path d="M240.04 871.45 L235.81 865.06 L231.42 858.54 L226.84 851.89 L222.09 845.12 L217.14 838.21 L212 831.15 L206.66 823.95 L201.12 816.59 L195.36 809.07 L189.38 801.39 L183.18 793.52 L176.75 785.48 L170.1 777.24 L163.21 768.79 L156.08 760.14 L148.72 751.26 L141.12 742.14 L133.28 732.78 L125.2 723.15 L116.89 713.25 L108.34 703.05 L99.56 692.54 L90.56 681.69 L81.32 670.5 L71.87 658.92 L62.2 646.94 L52.31 634.53 L42.21 621.65 L31.91 608.27 L21.4 594.35 L10.7 579.84 L-0.21 564.69 L-11.3 548.84 L-22.59 532.22 L-34.06 514.75 L-45.72 496.35 L-57.56 476.91 L-69.58 456.3 L-81.76 434.37 L-94.11 410.94 L-106.59 385.8 L-119.19 358.66 L-131.87 329.2 L-144.57 296.97 L-157.21 261.4 L-169.66 221.71 L-181.7 176.82 L-192.97 125.17 L-202.86 64.34" fill="none" stroke="#0000ff" stroke-width="2.08" stroke-dasharray="7.71 3.33" stroke-opacity="0.5" />
<path d="M334.72 871.45 L331.83 865.06 L328.8 858.54 L325.61 851.89 L322.26 845.12 L318.74 838.21 L315.03 831.15 L311.13 823.95 L307.02 816.59 L302.7 809.07 L298.15 801.39 L293.35 793.52 L288.3 785.48 L282.98 777.24 L277.38 768.79 L271.49 760.14 L265.28 751.26 L258.76 742.14 L251.9 732.78 L244.7 723.15 L237.15 713.25 L229.23 703.05 L220.95 692.54 L212.29 681.69 L203.25 670.5 L193.83 658.92 L184.04 646.94 L173.87 634.53 L163.33 621.65 L152.43 608.27 L141.17 594.35 L129.56 579.84 L117.62 564.69 L105.34 548.84 L92.74 532.22 L79.83 514.75 L66.61 496.35 L53.09 476.91 L39.29 456.3 L25.2 434.37 L10.84 410.94 L-3.79 385.8 L-18.67 358.66 L-33.77 329.2 L-49.07 296.97 L-64.49 261.4 L-79.95 221.71 L-95.28 176.82 L-110.19 125.17 L-124.17 64.34" fill="none" stroke="#0000ff" stroke-width="2.08" stroke-dasharray="7.71 3.33" stroke-opacity="0.5" />
<path d="M381.87 871.45 L379.71 865.06 L377.44 858.54 L375.03 851.89 L372.49 845.12 L369.81 838.21 L366.97 831.15 L363.96 823.95 L360.77 816.59 L357.39 809.07 L353.81 801.39 L350.01 793.52 L345.97 785.48 L341.69 777.24 L337.13 768.79 L332.29 760.14 L327.14 751.26 L321.67 742.14 L315.86 732.78 L309.68 723.15 L303.12 713.25 L296.15 703.05 L288.76 692.54 L280.92 681.69 L272.63 670.5 L263.86 658.92 L254.61 646.94 L244.87 634.53 L234.63 621.65 L223.9 608.27 L212.67 594.35 L200.95 579.84 L188.75 564.69 L176.08 548.84 L162.96 532.22 L149.4 514.75 L135.41 496.35 L121.01 476.91 L106.22 456.3 L91.04 434.37 L75.49 410.94 L59.58 385.8 L43.32 358.66 L26.73 329.2 L9.85 296.97 L-7.29 261.4 L-24.6 221.71 L-41.96 176.82 L-59.11 125.17 L-75.61 64.34" fill="none" stroke="#0000ff" stroke-width="2.08" stroke-dasharray="7.71 3.33" stroke-opacity="0.5" />
<path d="M429.05 871.45 L427.61 865.06 L426.08 858.54 L424.46 851.89 L422.73 845.12 L420.89 838.21 L418.93 831.15 L416.84 823.95 L414.62 816.59 L412.24 809.07 L409.7 801.39 L406.98 793.52 L404.07 785.48 L400.95 777.24 L397.61 768.79 L394.03 760.14 L390.18 751.26 L386.04 742.14 L381.6 732.78 L376.81 723.15 L371.67 713.25 L366.12 703.05 L360.16 692.54 L353.73 681.69 L346.82 670.5 L339.38 658.92 L331.39 646.94 L322.81 634.53 L313.62 621.65 L303.78 608.27 L293.29 594.35 L282.12 579.84 L270.28 564.69 L257.75 548.84 L244.55 532.22 L230.68 514.75 L216.18 496.35 L201.07 476.91 L185.36 456.3 L169.08 434.37 L152.26 410.94 L134.93 385.8 L117.1 358.66 L98.8 329.2 L80.04 296.97 L60.88 261.4 L41.36 221.71 L21.59 176.82 L1.76 125.17 L-17.74 64.34" fill="none" stroke="#0000ff" stroke-width="2.08" stroke-dasharray="7.71 3.33" stroke-opacity="0.5" />
<path d="M476.35 871.45 L475.58 865.06 L474.75 858.54 L473.86 851.89 L472.9 845.12 L471.86 838.21 L470.74 831.15 L469.54 823.95 L468.23 816.59 L466.83 809.07 L465.3 801.39 L463.66 793.52 L461.88 785.48 L459.94 777.24 L457.85 768.79 L455.57 760.14 L453.1 751.26 L450.41 742.14 L447.49 732.78 L444.3 723.15 L440.82 713.25 L437.01 703.05 L432.86 692.54 L428.31 681.69 L423.33 670.5 L417.87 658.92 L411.88 646.94 L405.32 634.53 L398.12 621.65 L390.23 608.27 L381.59 594.35 L372.14 579.84 L361.82 564.69 L350.6 548.84 L338.42 532.22 L325.28 514.75 L311.15 496.35 L296.04 476.91 L279.97 456.3 L262.97 434.37 L245.1 410.94 L226.39 385.8 L206.9 358.66 L186.66 329.2 L165.74 296.97 L144.15 261.4 L121.97 221.71 L99.26 176.82 L76.17 125.17 L53 64.34" fill="none" stroke="#0000ff" stroke-width="2.08" stroke-dasharray="7.71 3.33" stroke-opacity="0.5" />
<path d="M523.84 871.45 L523.67 865.06 L523.47 858.54 L523.23 851.89 L522.96 845.12 L522.64 838.21 L522.28 831.15 L521.87 823.95 L521.4 816.59 L520.87 809.07 L520.27 801.39 L519.6 793.52 L518.85 785.48 L518.01 777.24 L517.06 768.79 L516.01 760.14 L514.83 751.26 L513.52 742.14 L512.06 732.78 L510.42 723.15 L508.59 713.25 L506.55 703.05 L504.27 692.54 L501.72 681.69 L498.87 670.5 L495.67 658.92 L492.07 646.94 L488.04 634.53 L483.5 621.65 L478.39 608.27 L472.63 594.35 L466.13 579.84 L458.8 564.69 L450.53 548.84 L441.21 532.22 L430.72 514.75 L418.95 496.35 L405.79 476.91 L391.18 456.3 L375.05 434.37 L357.39 410.94 L338.23 385.8 L317.64 358.66 L295.71 329.2 L272.54 296.97 L248.23 261.4 L222.87 221.71 L196.56 176.82 L169.42 125.17 L141.65 64.34" fill="none" stroke="#0000ff" stroke-width="2.08" stroke-dasharray="7.71 3.33" stroke-opacity="0.5" />
<path d="M571.54 871.45 L571.89 865.06 L572.23 858.54 L572.56 851.89 L572.88 845.12 L573.18 838.21 L573.47 831.15 L573.73 823.95 L573.98 816.59 L574.2 809.07 L574.4 801.39 L574.56 793.52 L574.69 785.48 L574.77 777.24 L574.82 768.79 L574.81 760.14 L574.75 751.26 L574.62 742.14 L574.41 732.78 L574.12 723.15 L573.74 713.25 L573.24 703.05 L572.62 692.54 L571.86 681.69 L570.93 670.5 L569.81 658.92 L568.47 646.94 L566.87 634.53 L564.98 621.65 L562.74 608.27 L560.1 594.35 L556.98 579.84 L553.3 564.69 L548.95 548.84 L543.82 532.22 L537.75 514.75 L530.58 496.35 L522.09 476.91 L512.06 456.3 L500.23 434.37 L486.34 410.94 L470.15 385.8 L451.46 358.66 L430.19 329.2 L406.35 296.97 L380.09 261.4 L351.63 221.71 L321.23 176.82 L289.13 125.17 L255.56 64.34" fill="none" stroke="#0000ff" stroke-width="2.08" stroke-dasharray="7.71 3.33" stroke-opacity="0.5" />
<path d="M619.48 871.45 L620.26 865.06 L621.06 858.54 L621.85 851.89 L622.66 845.12 L623.47 838.21 L624.29 831.15 L625.12 823.95 L625.95 816.59 L626.79 809.07 L627.63 801.39 L628.47 793.52 L629.31 785.48 L630.15 777.24 L630.99 768.79 L631.83 760.14 L632.66 751.26 L633.48 742.14 L634.28 732.78 L635.07 723.15 L635.83 713.25 L636.57 703.05 L637.28 692.54 L637.94 681.69 L638.54 670.5 L639.09 658.92 L639.56 646.94 L639.93 634.53 L640.19 621.65 L640.31 608.27 L640.27 594.35 L640.02 579.84 L639.52 564.69 L638.71 548.84 L637.53 532.22 L635.87 514.75 L633.63 496.35 L630.66 476.91 L626.76 456.3 L621.68 434.37 L615.1 410.94 L606.61 385.8 L595.66 358.66 L581.63 329.2 L563.81 296.97 L541.52 261.4 L514.34 221.71 L482.26 176.82 L445.73 125.17 L405.45 64.34" fill="none" stroke="#0000ff" stroke-width="2.08" stroke-dasharray="7.71 3.33" stroke-opacity="0.5" />
<path d="M667.64 871.45 L668.77 865.06 L669.93 858.54 L671.11 851.89 L672.31 845.12 L673.53 838.21 L674.78 831.15 L676.05 823.95 L677.34 816.59 L678.66 809.07 L680.01 801.39 L681.39 793.52 L682.79 785.48 L684.22 777.24 L685.68 768.79 L687.16 760.14 L688.68 751.26 L690.22 742.14 L691.8 732.78 L693.41 723.15 L695.04 713.25 L696.71 703.05 L698.4 692.54 L700.13 681.69 L701.88 670.5 L703.65 658.92 L705.45 646.94 L707.26 634.53 L709.09 621.65 L710.93 608.27 L712.77 594.35 L714.6 579.84 L716.4 564.69 L718.16 548.84 L719.85 532.22 L721.44 514.75 L722.89 496.35 L724.14 476.91 L725.11 456.3 L725.7 434.37 L725.75 410.94 L725.05 385.8 L723.29 358.66 L720.01 329.2 L714.55 296.97 L705.9 261.4 L692.56 221.71 L672.45 176.82 L643.19 125.17 L603.05 64.34" fill="none" stroke="#0000ff" stroke-width="2.08" stroke-dasharray="7.71 3.33" stroke-opacity="0.5" />
<path d="M716 871.45 L717.41 865.06 L718.85 858.54 L720.32 851.89 L721.83 845.12 L723.37 838.21 L724.95 831.15 L726.56 823.95 L728.22 816.59 L729.91 809.07 L731.65 801.39 L733.43 793.52 L735.25 785.48 L737.13 777.24 L739.05 768.79 L741.02 760.14 L743.05 751.26 L745.14 742.14 L747.29 732.78 L749.49 723.15 L751.76 713.25 L754.11 703.05 L756.52 692.54 L759 681.69 L761.57 670.5 L764.22 658.92 L766.95 646.94 L769.77 634.53 L772.69 621.65 L775.71 608.27 L778.83 594.35 L782.07 579.84 L785.41 564.69 L788.87 548.84 L792.46 532.22 L796.17 514.75 L800 496.35 L803.95 476.91 L808.03 456.3 L812.2 434.37 L816.46 410.94 L820.76 385.8 L825.03 358.66 L829.16 329.2 L832.96 296.97 L836.11 261.4 L838.04 221.71 L837.7 176.82 L833.07 125.17 L820.14 64.34" fill="none" stroke="#0000ff" stroke-width="2.08" stroke-dasharray="7.71 3.33" stroke-opacity="0.5" />
<path d="M764.54 871.45 L766.16 865.06 L767.81 858.54 L769.51 851.89 L771.25 845.12 L773.03 838.21 L774.85 831.15 L776.72 823.95 L778.64 816.59 L780.62 809.07 L782.64 801.39 L784.72 793.52 L786.86 785.48 L789.06 777.24 L791.32 768.79 L793.65 760.14 L796.06 751.26 L798.53 742.14 L801.09 732.78 L803.73 723.15 L806.45 713.25 L809.27 703.05 L812.19 692.54 L815.21 681.69 L818.34 670.5 L821.59 658.92 L824.97 646.94 L828.48 634.53 L832.14 621.65 L835.95 608.27 L839.93 594.35 L844.09 579.84 L848.44 564.69 L853.01 548.84 L857.8 532.22 L862.84 514.75 L868.16 496.35 L873.78 476.91 L879.72 456.3 L886.02 434.37 L892.73 410.94 L899.88 385.8 L907.52 358.66 L915.71 329.2 L924.49 296.97 L933.92 261.4 L944.02 221.71 L954.76 176.82 L965.94 125.17 L976.9 64.34" fill="none" stroke="#0000ff" stroke-width="2.08" stroke-dasharray="7.71 3.33" stroke-opacity="0.5" />
<path d="M813.22 871.45 L815 865.06 L816.81 858.54 L818.67 851.89 L820.57 845.12 L822.53 838.21 L824.53 831.15 L826.59 823.95 L828.7 816.59 L830.87 809.07 L833.11 801.39 L835.4 793.52 L837.76 785.48 L840.19 777.24 L842.7 768.79 L845.28 760.14 L847.94 751.26 L850.69 742.14 L853.53 732.78 L856.47 723.15 L859.51 713.25 L862.66 703.05 L865.93 692.54 L869.31 681.69 L872.83 670.5 L876.49 658.92 L880.3 646.94 L884.28 634.53 L888.42 621.65 L892.76 608.27 L897.3 594.35 L902.06 579.84 L907.06 564.69 L912.33 548.84 L917.89 532.22 L923.77 514.75 L930 496.35 L936.63 476.91 L943.7 456.3 L951.27 434.37 L959.4 410.94 L968.18 385.8 L977.7 358.66 L988.09 329.2 L999.51 296.97 L1012.14 261.4 L1026.24 221.71 L1042.17 176.82 L1060.37 125.17 L1081.5 64.34" fill="none" stroke="#0000ff" stroke-width="2.08" stroke-dasharray="7.71 3.33" stroke-opacity="0.5" />
<path d="M179.02 679.37 L175.34 684.58 L171.73 689.72 L168.16 694.78 L164.65 699.76 L161.2 704.68 L157.79 709.52 L154.43 714.3 L151.12 719.02 L147.86 723.67 L144.65 728.25 L141.47 732.78 L138.34 737.25 L135.26 741.66 L132.21 746.01 L129.2 750.31 L126.23 754.56 L123.3 758.75 L120.41 762.9 L117.55 766.99 L114.73 771.04 L111.94 775.03 L109.19 778.99 L106.47 782.9 L103.78 786.76 L101.12 790.58 L98.49 794.36 L95.89 798.1 L93.32 801.8 L90.78 805.45 L88.27 809.07 L85.78 812.65 L83.32 816.2 L80.89 819.71 L78.49 823.18 L76.1 826.62 L73.75 830.02 L71.41 833.39 L69.11 836.73 L66.82 840.04 L64.56 843.31 L62.32 846.56 L60.1 849.77 L57.9 852.95 L55.73 856.11 L53.57 859.23 L51.43 862.33 L49.32 865.4 L47.22 868.44 L45.15 871.45" fill="none" stroke="#008000" stroke-width="2.08" stroke-dasharray="7.71 3.33" stroke-opacity="0.8" />
<path d="M275.98 679.37 L272.45 684.58 L268.98 689.72 L265.56 694.78 L262.19 699.76 L258.87 704.68 L255.61 709.52 L252.39 714.3 L249.21 719.02 L246.08 723.67 L243 728.25 L239.96 732.78 L236.96 737.25 L234 741.66 L231.08 746.01 L228.2 750.31 L225.35 754.56 L222.55 758.75 L219.77 762.9 L217.04 766.99 L214.33 771.04 L211.66 775.03 L209.03 778.99 L206.42 782.9 L203.84 786.76 L201.3 790.58 L198.78 794.36 L196.3 798.1 L193.84 801.8 L191.41 805.45 L189 809.07 L186.62 812.65 L184.27 816.2 L181.94 819.71 L179.64 823.18 L177.37 826.62 L175.11 830.02 L172.88 833.39 L170.67 836.73 L168.49 840.04 L166.32 843.31 L164.18 846.56 L162.06 849.77 L159.96 852.95 L157.88 856.11 L155.82 859.23 L153.78 862.33 L151.76 865.4 L149.76 868.44 L147.78 871.45" fill="none" stroke="#008000" stroke-width="2.08" stroke-dasharray="7.71 3.33" stroke-opacity="0.8" />
<path d="M355.48 679.37 L352.08 684.58 L348.73 689.72 L345.43 694.78 L342.19 699.76 L338.99 704.68 L335.84 709.52 L332.74 714.3 L329.68 719.02 L326.67 723.67 L323.7 728.25 L320.77 732.78 L317.88 737.25 L315.03 741.66 L312.22 746.01 L309.44 750.31 L306.71 754.56 L304 758.75 L301.34 762.9 L298.7 766.99 L296.1 771.04 L293.53 775.03 L290.99 778.99 L288.49 782.9 L286.01 786.76 L283.56 790.58 L281.14 794.36 L278.75 798.1 L276.38 801.8 L274.05 805.45 L271.74 809.07 L269.45 812.65 L267.19 816.2 L264.95 819.71 L262.74 823.18 L260.55 826.62 L258.39 830.02 L256.24 833.39 L254.12 836.73 L252.02 840.04 L249.95 843.31 L247.89 846.56 L245.85 849.77 L243.83 852.95 L241.84 856.11 L239.86 859.23 L237.9 862.33 L235.96 865.4 L234.04 868.44 L232.14 871.45" fill="none" stroke="#008000" stroke-width="2.08" stroke-dasharray="7.71 3.33" stroke-opacity="0.8" />
<path d="M440.84 679.37 L437.58 684.58 L434.37 689.72 L431.21 694.78 L428.1 699.76 L425.04 704.68 L422.02 709.52 L419.05 714.3 L416.12 719.02 L413.24 723.67 L410.39 728.25 L407.59 732.78 L404.82 737.25 L402.1 741.66 L399.4 746.01 L396.75 750.31 L394.13 754.56 L391.55 758.75 L388.99 762.9 L386.47 766.99 L383.99 771.04 L381.53 775.03 L379.1 778.99 L376.71 782.9 L374.34 786.76 L372 790.58 L369.69 794.36 L367.4 798.1 L365.14 801.8 L362.91 805.45 L360.7 809.07 L358.52 812.65 L356.36 816.2 L354.22 819.71 L352.11 823.18 L350.02 826.62 L347.95 830.02 L345.91 833.39 L343.88 836.73 L341.88 840.04 L339.9 843.31 L337.94 846.56 L335.99 849.77 L334.07 852.95 L332.17 856.11 L330.28 859.23 L328.41 862.33 L326.56 865.4 L324.73 868.44 L322.92 871.45" fill="none" stroke="#008000" stroke-width="2.08" stroke-dasharray="7.71 3.33" stroke-opacity="0.8" />
<path d="M514.35 679.37 L511.21 684.58 L508.13 689.72 L505.09 694.78 L502.1 699.76 L499.16 704.68 L496.26 709.52 L493.4 714.3 L490.59 719.02 L487.82 723.67 L485.09 728.25 L482.39 732.78 L479.74 737.25 L477.12 741.66 L474.54 746.01 L471.99 750.31 L469.47 754.56 L466.99 758.75 L464.54 762.9 L462.13 766.99 L459.74 771.04 L457.39 775.03 L455.06 778.99 L452.76 782.9 L450.49 786.76 L448.25 790.58 L446.03 794.36 L443.84 798.1 L441.68 801.8 L439.54 805.45 L437.42 809.07 L435.33 812.65 L433.26 816.2 L431.22 819.71 L429.19 823.18 L427.19 826.62 L425.21 830.02 L423.25 833.39 L421.32 836.73 L419.4 840.04 L417.5 843.31 L415.62 846.56 L413.76 849.77 L411.92 852.95 L410.1 856.11 L408.3 859.23 L406.51 862.33 L404.74 865.4 L402.99 868.44 L401.26 871.45" fill="none" stroke="#008000" stroke-width="2.08" stroke-dasharray="7.71 3.33" stroke-opacity="0.8" />
<path d="M563.43 679.37 L560.38 684.58 L557.38 689.72 L554.42 694.78 L551.52 699.76 L548.65 704.68 L545.84 709.52 L543.06 714.3 L540.33 719.02 L537.63 723.67 L534.98 728.25 L532.36 732.78 L529.78 737.25 L527.24 741.66 L524.73 746.01 L522.25 750.31 L519.81 754.56 L517.4 758.75 L515.02 762.9 L512.68 766.99 L510.36 771.04 L508.07 775.03 L505.81 778.99 L503.58 782.9 L501.38 786.76 L499.2 790.58 L497.05 794.36 L494.93 798.1 L492.83 801.8 L490.75 805.45 L488.7 809.07 L486.67 812.65 L484.67 816.2 L482.68 819.71 L480.72 823.18 L478.78 826.62 L476.86 830.02 L474.96 833.39 L473.09 836.73 L471.23 840.04 L469.39 843.31 L467.57 846.56 L465.77 849.77 L463.98 852.95 L462.22 856.11 L460.47 859.23 L458.74 862.33 L457.03 865.4 L455.33 868.44 L453.65 871.45" fill="none" stroke="#008000" stroke-width="2.08" stroke-dasharray="7.71 3.33" stroke-opacity="0.8" />
<path d="M630.77 679.37 L627.84 684.58 L624.95 689.72 L622.12 694.78 L619.33 699.76 L616.58 704.68 L613.88 709.52 L611.21 714.3 L608.59 719.02 L606.01 723.67 L603.46 728.25 L600.95 732.78 L598.48 737.25 L596.04 741.66 L593.63 746.01 L591.26 750.31 L588.92 754.56 L586.61 758.75 L584.33 762.9 L582.08 766.99 L579.87 771.04 L577.68 775.03 L575.51 778.99 L573.38 782.9 L571.27 786.76 L569.18 790.58 L567.13 794.36 L565.09 798.1 L563.08 801.8 L561.1 805.45 L559.14 809.07 L557.2 812.65 L555.28 816.2 L553.38 819.71 L551.51 823.18 L549.65 826.62 L547.82 830.02 L546 833.39 L544.21 836.73 L542.43 840.04 L540.68 843.31 L538.94 846.56 L537.22 849.77 L535.52 852.95 L533.83 856.11 L532.16 859.23 L530.51 862.33 L528.87 865.4 L527.25 868.44 L525.65 871.45" fill="none" stroke="#008000" stroke-width="2.08" stroke-dasharray="7.71 3.33" stroke-opacity="0.8" />
<path d="M691.22 679.37 L688.4 684.58 L685.63 689.72 L682.9 694.78 L680.22 699.76 L677.58 704.68 L674.98 709.52 L672.42 714.3 L669.9 719.02 L667.42 723.67 L664.97 728.25 L662.56 732.78 L660.18 737.25 L657.84 741.66 L655.53 746.01 L653.25 750.31 L651.01 754.56 L648.79 758.75 L646.61 762.9 L644.45 766.99 L642.32 771.04 L640.22 775.03 L638.14 778.99 L636.1 782.9 L634.07 786.76 L632.08 790.58 L630.1 794.36 L628.16 798.1 L626.23 801.8 L624.33 805.45 L622.45 809.07 L620.59 812.65 L618.75 816.2 L616.94 819.71 L615.14 823.18 L613.37 826.62 L611.61 830.02 L609.87 833.39 L608.16 836.73 L606.46 840.04 L604.78 843.31 L603.11 846.56 L601.47 849.77 L599.84 852.95 L598.23 856.11 L596.63 859.23 L595.05 862.33 L593.49 865.4 L591.94 868.44 L590.41 871.45" fill="none" stroke="#008000" stroke-width="2.08" stroke-dasharray="7.71 3.33" stroke-opacity="0.8" />
<path d="M735.34 679.37 L732.61 684.58 L729.92 689.72 L727.27 694.78 L724.67 699.76 L722.1 704.68 L719.58 709.52 L717.1 714.3 L714.65 719.02 L712.25 723.67 L709.87 728.25 L707.54 732.78 L705.23 737.25 L702.96 741.66 L700.72 746.01 L698.52 750.31 L696.34 754.56 L694.2 758.75 L692.08 762.9 L689.99 766.99 L687.93 771.04 L685.89 775.03 L683.89 778.99 L681.9 782.9 L679.95 786.76 L678.01 790.58 L676.1 794.36 L674.22 798.1 L672.35 801.8 L670.51 805.45 L668.7 809.07 L666.9 812.65 L665.12 816.2 L663.37 819.71 L661.63 823.18 L659.91 826.62 L658.22 830.02 L656.54 833.39 L654.88 836.73 L653.24 840.04 L651.61 843.31 L650 846.56 L648.41 849.77 L646.84 852.95 L645.28 856.11 L643.74 859.23 L642.22 862.33 L640.71 865.4 L639.21 868.44 L637.73 871.45" fill="none" stroke="#008000" stroke-width="2.08" stroke-dasharray="7.71 3.33" stroke-opacity="0.8" />
</g>
<g clip-path="url(#cs)" stroke-linejoin="round">
<path d="M480 61.5 L470.5 64.6 L466.8 66.8 L460.7 79.4 L440.8 117.7 L417.1 174.3 L389.9 227.5 L368.6 260 L353.9 281.5 L336.9 303 L312 332.4 L286.7 381.1 L280.8 425.2 L293.6 460 L297 466.8 L315.1 496.2 L338.8 526.8 L356.9 548.3 L396.9 593.6 L402.6 600 L416.7 617.3 L437.2 646.2 L459 678.2 L476.9 702.6 L489.7 719.2 L494 725.6 L498 730.8 L501.7 736 L504.5 741.2 L506.5 746.4 L507 752.1 L507.3 757.7 L508.5 762.5 L511.7 766.5 L515.7 769.7 L518.5 772.1 L519.3 774.9 L516.9 776.5 L513.3 778.1 L506.1 779.7 L494 781.7 L482 783.7 L470 785.7 L462.3 787.5 L455.6 789.1 L452.4 791.2" fill="none" stroke="#ff0000" stroke-width="2.43" />
<path d="M327.1 65.1 L281 110.2 L218.6 172.6 L214.5 176.7 L182.8 226.9 L185.8 268.7 L186.4 284 L174.6 332.1 L176.6 381.3 L186.9 403.8 L194 420 L214.5 463 L245.2 496.8 L269.8 525.4 L280 552.1 L275.9 574.6 L260.6 596.1 L241.1 615.1 L227.1 631.3 L221.9 640 L216.3 648 L210.7 660.9 L205.9 673.7 L202.7 686.5 L199.4 701 L196.2 715.4 L192.2 729.9 L191.4 736.3 L193.8 742.7 L200.2 749.1 L210.7 754.8 L219.5 759.6 L223.5 762.8 L224.3 770.8 L228.3 773.2 L238 776.4 L245 777.7 L256.2 778.9 L288.5 783.2 L320.9 787.5 L359.7 790.9" fill="none" stroke="#008000" stroke-width="2.43" />
<path d="M452.5 791.2 L390 740 L385.79 730.99 L381.39 721.98 L376.8 712.97 L372.03 703.96 L367.06 694.95 L361.9 685.94 L356.55 676.93 L351.02 667.92 L345.3 658.91 L339.42 649.9 L333.36 640.89 L327.15 631.88 L320.79 622.87 L314.29 613.85 L307.66 604.84 L300.92 595.83 L294.08 586.82 L287.15 577.81 L280.15 568.8 L273.1 559.79 L265.99 550.78 L258.86 541.77 L251.72 532.76 L244.56 523.75 L237.42 514.74 L230.3 505.73 L223.2 496.72 L216.15 487.71 L209.15 478.7 L202.2 469.69 L195.32 460.68 L188.5 451.67 L181.77 442.66 L175.11 433.65 L168.54 424.64 L162.06 415.63 L155.68 406.62 L149.38 397.61 L143.19 388.6 L137.09 379.58 L131.1 370.57 L125.2 361.56 L119.41 352.55 L113.72 343.54 L108.14 334.53 L102.66 325.52 L97.28 316.51 L92.01 307.5 L86.84 298.49 L81.77 289.48 L76.81 280.47 L71.95 271.46 L67.19 262.45 L62.53 253.44 L57.98 244.43 L53.52 235.42 L49.17 226.41 L44.91 217.4 L40.75 208.39 L36.69 199.38 L32.73 190.37 L28.87 181.36 L25.1 172.35 L21.42 163.34 L17.85 154.33 L14.36 145.31 L10.97 136.3 L7.67 127.29 L4.46 118.28 L1.35 109.27 L-1.68 100.26 L-4.61 91.25 L-7.46 82.24 L-10.22 73.23 L-12.89 64.22 L-15.47 55.21 L-17.96 46.2 L-20.37 37.19 L-22.7 28.18" fill="none" stroke="#0e2450" stroke-width="0.9" />
</g>
<g clip-path="url(#cb)">
<path d="M604.77 67.7 L578.21 46.42 L583.4 33.14 L578.21 46.42 L581.53 49.08 L586.72 35.8 L581.53 49.08 L584.85 51.74 L590.04 38.46 L584.85 51.74 L588.17 54.4 L590.77 47.76 L588.17 54.4Z" fill="#00204e" stroke="#00204e" stroke-width="2.01" stroke-linejoin="round"/>
<path d="M604.77 120.6 L575.88 102.62 L579.46 88.82 L575.88 102.62 L579.49 104.87 L583.07 91.06 L579.49 104.87 L583.1 107.11 L586.69 93.31 L583.1 107.11 L586.71 109.36 L590.3 95.56 L586.71 109.36Z" fill="#00204e" stroke="#00204e" stroke-width="2.01" stroke-linejoin="round"/>
<path d="M604.77 174.3 L574.21 159.33 L576.38 145.24 L574.21 159.33 L578.03 161.2 L580.2 147.11 L578.03 161.2 L581.85 163.07 L584.02 148.98 L581.85 163.07 L585.67 164.94 L587.84 150.85 L585.67 164.94Z" fill="#00204e" stroke="#00204e" stroke-width="2.01" stroke-linejoin="round"/>
<path d="M604.77 227.3 L574.98 210.85 L577.83 196.88 L574.98 210.85 L578.7 212.91 L581.56 198.94 L578.7 212.91 L582.43 214.97 L585.28 200.99 L582.43 214.97 L586.15 217.02 L589.01 203.05 L586.15 217.02Z" fill="#00204e" stroke="#00204e" stroke-width="2.01" stroke-linejoin="round"/>
<path d="M604.77 281 L575.48 263.68 L578.75 249.8 L575.48 263.68 L579.14 265.84 L582.41 251.96 L579.14 265.84 L582.8 268.01 L586.07 254.13 L582.8 268.01 L586.46 270.17 L589.73 256.29 L586.46 270.17 L590.13 272.34 L591.76 265.4 L590.13 272.34Z" fill="#00204e" stroke="#00204e" stroke-width="2.01" stroke-linejoin="round"/>
<path d="M604.77 333.3 L575.45 316.03 L578.69 302.14 L575.45 316.03 L579.12 318.19 L582.36 304.3 L579.12 318.19 L582.78 320.35 L586.02 306.46 L582.78 320.35 L586.45 322.51 L589.69 308.62 L586.45 322.51 L590.11 324.66 L591.73 317.72 L590.11 324.66Z" fill="#00204e" stroke="#00204e" stroke-width="2.01" stroke-linejoin="round"/>
<path d="M604.77 381.7 L576.39 362.92 L580.36 349.22 L576.39 362.92 L579.94 365.27 L583.91 351.57 L579.94 365.27 L583.49 367.61 L587.45 353.92 L583.49 367.61 L587.04 369.96 L591 356.26 L587.04 369.96Z" fill="#00204e" stroke="#00204e" stroke-width="2.01" stroke-linejoin="round"/>
<path d="M604.77 425.5 L576.53 406.52 L580.59 392.85 L576.53 406.52 L580.06 408.89 L584.12 395.22 L580.06 408.89 L583.59 411.27 L587.65 397.6 L583.59 411.27 L587.12 413.64 L591.18 399.97 L587.12 413.64Z" fill="#00204e" stroke="#00204e" stroke-width="2.01" stroke-linejoin="round"/>
<path d="M604.77 463.7 L575.6 446.17 L578.97 432.32 L575.6 446.17 L579.25 448.37 L582.61 434.51 L579.25 448.37 L582.89 450.56 L586.26 436.7 L582.89 450.56 L586.54 452.75 L589.9 438.89 L586.54 452.75Z" fill="#00204e" stroke="#00204e" stroke-width="2.01" stroke-linejoin="round"/>
<path d="M604.77 496.8 L575.27 479.84 L578.37 465.92 L575.27 479.84 L578.96 481.96 L582.06 468.04 L578.96 481.96 L582.65 484.08 L585.74 470.16 L582.65 484.08 L586.33 486.2 L589.43 472.28 L586.33 486.2 L590.02 488.32 L591.57 481.36 L590.02 488.32Z" fill="#00204e" stroke="#00204e" stroke-width="2.01" stroke-linejoin="round"/>
<path d="M604.77 525.6 L575.24 508.69 L585.7 498.99 L582.62 512.92Z" fill="#00204e" stroke="#00204e" stroke-width="2.01" stroke-linejoin="round"/>
<path d="M604.77 552.4 L575.76 534.62 L586.5 525.24 L583.01 539.07Z" fill="#00204e" stroke="#00204e" stroke-width="2.01" stroke-linejoin="round"/>
<path d="M604.77 575.3 L576.2 556.82 L587.16 547.7 L583.34 561.44Z" fill="#00204e" stroke="#00204e" stroke-width="2.01" stroke-linejoin="round"/>
<path d="M604.77 596.2 L576.9 576.68 L588.19 567.97 L583.86 581.56Z" fill="#00204e" stroke="#00204e" stroke-width="2.01" stroke-linejoin="round"/>
<path d="M604.77 614.5 L577.17 594.6 L581.68 581.07 L577.17 594.6 L580.62 597.08 L585.13 583.56 L580.62 597.08 L584.07 599.57 L588.58 586.04 L584.07 599.57 L587.52 602.06 L592.03 588.53 L587.52 602.06Z" fill="#00204e" stroke="#00204e" stroke-width="2.01" stroke-linejoin="round"/>
<path d="M604.77 631.4 L578.63 609.62 L584.07 596.44 L578.63 609.62 L581.89 612.34 L587.34 599.16 L581.89 612.34 L585.16 615.06 L590.61 601.88 L585.16 615.06 L588.43 617.79 L593.88 604.61 L588.43 617.79Z" fill="#00204e" stroke="#00204e" stroke-width="2.01" stroke-linejoin="round"/>
<path d="M604.77 660.3 L580.29 636.66 L586.69 623.92 L580.29 636.66 L583.35 639.62 L589.75 626.87 L583.35 639.62 L586.41 642.57 L592.81 629.83 L586.41 642.57 L589.47 645.53 L592.67 639.15 L589.47 645.53Z" fill="#00204e" stroke="#00204e" stroke-width="2.01" stroke-linejoin="round"/>
<path d="M604.77 684.6 L581.91 659.39 L589.14 647.1 L581.91 659.39 L584.77 662.54 L592 650.25 L584.77 662.54 L587.63 665.69 L594.85 653.4 L587.63 665.69 L590.48 668.85 L594.1 662.7 L590.48 668.85Z" fill="#00204e" stroke="#00204e" stroke-width="2.01" stroke-linejoin="round"/>
<path d="M604.77 705.1 L582.72 679.19 L590.32 667.13 L582.72 679.19 L585.47 682.43 L593.08 670.36 L585.47 682.43 L588.23 685.66 L595.84 673.6 L588.23 685.66Z" fill="#00204e" stroke="#00204e" stroke-width="2.01" stroke-linejoin="round"/>
<path d="M604.77 722.1 L582.99 695.96 L590.72 683.98 L582.99 695.96 L585.71 699.22 L593.45 687.24 L585.71 699.22 L588.43 702.49 L592.3 696.5 L588.43 702.49Z" fill="#00204e" stroke="#00204e" stroke-width="2.01" stroke-linejoin="round"/>
<path d="M604.77 736.5 L580.71 712.44 L587.33 699.81 L580.71 712.44 L583.72 715.45 L590.33 702.81 L583.72 715.45 L586.72 718.45 L590.03 712.14 L586.72 718.45Z" fill="#00204e" stroke="#00204e" stroke-width="2.01" stroke-linejoin="round"/>
<path d="M604.77 748.7 L575.45 731.43 L578.69 717.54 L575.45 731.43 L579.12 733.59 L582.36 719.7 L579.12 733.59Z" fill="#00204e" stroke="#00204e" stroke-width="2.01" stroke-linejoin="round"/>
<path d="M604.77 758.9 L570.92 755.4 L568.09 741.43 L570.92 755.4 L575.15 755.84 L572.32 741.86 L575.15 755.84Z" fill="#00204e" stroke="#00204e" stroke-width="2.01" stroke-linejoin="round"/>
<path d="M604.77 767.9 L571.26 773.81 L564.71 761.14 L571.26 773.81 L575.45 773.07 L568.9 760.4 L575.45 773.07 L579.64 772.33 L576.36 766 L579.64 772.33Z" fill="#00204e" stroke="#00204e" stroke-width="2.01" stroke-linejoin="round"/>
<path d="M604.77 775.3 L571.26 781.21 L564.71 768.54 L571.26 781.21 L575.45 780.47 L568.9 767.8 L575.45 780.47Z" fill="#00204e" stroke="#00204e" stroke-width="2.01" stroke-linejoin="round"/>
<path d="M604.77 781.7 L570.79 783.48 L565.83 770.11 L570.79 783.48 L575.04 783.26 L570.08 769.89 L575.04 783.26Z" fill="#00204e" stroke="#00204e" stroke-width="2.01" stroke-linejoin="round"/>
<path d="M604.77 786.8 L570.75 786.21 L566.73 772.52 L570.75 786.21 L575 786.28 L570.98 772.6 L575 786.28Z" fill="#00204e" stroke="#00204e" stroke-width="2.01" stroke-linejoin="round"/>
<path d="M604.77 791 L571.21 796.62 L564.77 783.89 L571.21 796.62Z" fill="#00204e" stroke="#00204e" stroke-width="2.01" stroke-linejoin="round"/>
</g>
<line x1="66.06" y1="64.5" x2="606.06" y2="64.5" stroke="#ffffff" stroke-width="1.11"/>
<line x1="605.5" y1="64.5" x2="605.5" y2="870.94" stroke="#ffffff" stroke-width="1.11"/>
<line x1="369" y1="740.05" x2="410.9" y2="740.05" stroke="#ffa500" stroke-width="3.9"/>
<line x1="65.5" y1="63.94" x2="65.5" y2="871.5" stroke="#00204e" stroke-width="1.11"/>
<line x1="64.94" y1="871.5" x2="605.5" y2="871.5" stroke="#00204e" stroke-width="1.11"/>
<line x1="60.64" y1="64.5" x2="65.5" y2="64.5" stroke="#00204e" stroke-width="1.11"/>
<text x="54.58" y="69.5" font-size="13.89" text-anchor="end" fill="#00204e" >100</text>
<line x1="60.64" y1="302.5" x2="65.5" y2="302.5" stroke="#00204e" stroke-width="1.11"/>
<text x="54.58" y="307.5" font-size="13.89" text-anchor="end" fill="#00204e" >200</text>
<line x1="60.64" y1="441.5" x2="65.5" y2="441.5" stroke="#00204e" stroke-width="1.11"/>
<text x="54.58" y="446.5" font-size="13.89" text-anchor="end" fill="#00204e" >300</text>
<line x1="60.64" y1="540.5" x2="65.5" y2="540.5" stroke="#00204e" stroke-width="1.11"/>
<text x="54.58" y="545.5" font-size="13.89" text-anchor="end" fill="#00204e" >400</text>
<line x1="60.64" y1="617.5" x2="65.5" y2="617.5" stroke="#00204e" stroke-width="1.11"/>
<text x="54.58" y="622.5" font-size="13.89" text-anchor="end" fill="#00204e" >500</text>
<line x1="60.64" y1="679.5" x2="65.5" y2="679.5" stroke="#00204e" stroke-width="1.11"/>
<text x="54.58" y="684.5" font-size="13.89" text-anchor="end" fill="#00204e" >600</text>
<line x1="60.64" y1="732.5" x2="65.5" y2="732.5" stroke="#00204e" stroke-width="1.11"/>
<text x="54.58" y="737.5" font-size="13.89" text-anchor="end" fill="#00204e" >700</text>
<line x1="60.64" y1="778.5" x2="65.5" y2="778.5" stroke="#00204e" stroke-width="1.11"/>
<text x="54.58" y="783.5" font-size="13.89" text-anchor="end" fill="#00204e" >800</text>
<line x1="60.64" y1="819.5" x2="65.5" y2="819.5" stroke="#00204e" stroke-width="1.11"/>
<text x="54.58" y="824.5" font-size="13.89" text-anchor="end" fill="#00204e" >900</text>
<line x1="60.64" y1="855.5" x2="65.5" y2="855.5" stroke="#00204e" stroke-width="1.11"/>
<text x="54.58" y="860.5" font-size="13.89" text-anchor="end" fill="#00204e" >1000</text>
<line x1="114.5" y1="871.5" x2="114.5" y2="876.36" stroke="#00204e" stroke-width="1.11"/>
<text x="114.5" y="891.82" font-size="13.89" text-anchor="middle" fill="#00204e" >−20</text>
<line x1="212.5" y1="871.5" x2="212.5" y2="876.36" stroke="#00204e" stroke-width="1.11"/>
<text x="212.5" y="891.82" font-size="13.89" text-anchor="middle" fill="#00204e" >−10</text>
<line x1="310.5" y1="871.5" x2="310.5" y2="876.36" stroke="#00204e" stroke-width="1.11"/>
<text x="310.5" y="891.82" font-size="13.89" text-anchor="middle" fill="#00204e" >0</text>
<line x1="408.5" y1="871.5" x2="408.5" y2="876.36" stroke="#00204e" stroke-width="1.11"/>
<text x="408.5" y="891.82" font-size="13.89" text-anchor="middle" fill="#00204e" >10</text>
<line x1="507.5" y1="871.5" x2="507.5" y2="876.36" stroke="#00204e" stroke-width="1.11"/>
<text x="507.5" y="891.82" font-size="13.89" text-anchor="middle" fill="#00204e" >20</text>
<line x1="605.5" y1="871.5" x2="605.5" y2="876.36" stroke="#00204e" stroke-width="1.11"/>
<text x="605.5" y="891.82" font-size="13.89" text-anchor="middle" fill="#00204e" >30</text>
<text x="335.3" y="912" font-size="13.89" text-anchor="middle" fill="#00204e" >Temperature (℃)</text>
<text x="10.5" y="469.3" font-size="13.89" text-anchor="middle" fill="#00204e" transform="rotate(-90 10.5 469.3)">Isobaric Height (hPa)</text>
<text x="172.6" y="86.3" font-size="13.89" text-anchor="end" fill="#00204e" >LCL Height:</text>
<text x="176.9" y="86.3" font-size="13.89" text-anchor="start" fill="#00204e" >2823.0 m</text>
<text x="172.6" y="104.28" font-size="13.89" text-anchor="end" fill="#00204e" >LFC Height:</text>
<text x="176.9" y="104.28" font-size="13.89" text-anchor="start" fill="#00204e" >nan m</text>
<text x="172.6" y="122.26" font-size="13.89" text-anchor="end" fill="#00204e" >MLLR:</text>
<text x="176.9" y="122.26" font-size="13.89" text-anchor="start" fill="#00204e" >7.7 K</text>
<text x="172.6" y="140.24" font-size="13.89" text-anchor="end" fill="#00204e" >SBCAPE:</text>
<text x="176.9" y="140.24" font-size="13.89" text-anchor="start" fill="#00204e" >0.0 J/kg</text>
<text x="172.6" y="158.22" font-size="13.89" text-anchor="end" fill="#00204e" >SBCIN:</text>
<text x="176.9" y="158.22" font-size="13.89" text-anchor="start" fill="#00204e" >0.0 J/kg</text>
<text x="172.6" y="176.2" font-size="13.89" text-anchor="end" fill="#00204e" >MLCAPE:</text>
<text x="176.9" y="176.2" font-size="13.89" text-anchor="start" fill="#00204e" >0.0 J/kg</text>
<text x="172.6" y="194.18" font-size="13.89" text-anchor="end" fill="#00204e" >MLCIN:</text>
<text x="176.9" y="194.18" font-size="13.89" text-anchor="start" fill="#00204e" >0.0 J/kg</text>
<text x="172.6" y="212.16" font-size="13.89" text-anchor="end" fill="#00204e" >MUCAPE:</text>
<text x="176.9" y="212.16" font-size="13.89" text-anchor="start" fill="#00204e" >0.0 J/kg</text>
<text x="172.6" y="230.14" font-size="13.89" text-anchor="end" fill="#00204e" >Shear 0-1 km:</text>
<text x="176.9" y="230.14" font-size="13.89" text-anchor="start" fill="#00204e" >7.8 m/s</text>
<text x="172.6" y="248.12" font-size="13.89" text-anchor="end" fill="#00204e" >Shear 0-6 km:</text>
<text x="176.9" y="248.12" font-size="13.89" text-anchor="start" fill="#00204e" >19.6 m/s</text>
<text x="172.6" y="266.1" font-size="13.89" text-anchor="end" fill="#00204e" >SRH 0-1 km:</text>
<text x="176.9" y="266.1" font-size="13.89" text-anchor="start" fill="#00204e" >-85.9 m²/s²</text>
<text x="172.6" y="284.08" font-size="13.89" text-anchor="end" fill="#00204e" >SRH 0-3 km:</text>
<text x="176.9" y="284.08" font-size="13.89" text-anchor="start" fill="#00204e" >-197.0 m²/s²</text>
<text x="334.7" y="835.4" font-size="13.89" text-anchor="middle" fill="#00204e" >Sun-MST</text>
<circle cx="334.7" cy="871.2" r="22.2" fill="#ffffff" stroke="#b0b0b0" stroke-width="1"/>
<line x1="335.1" y1="871.7" x2="335.1" y2="850.2" stroke="#00204e" stroke-width="1.3"/>
<line x1="335.1" y1="871.7" x2="327.4" y2="859.0" stroke="#00204e" stroke-width="1.3"/>
<text x="3.1" y="20.7" font-size="25.08" text-anchor="start" fill="#00204e" >Custer Airport, SD; Model Run 2025-12-14 00 UTC; WRF Domain 02</text>
<text x="335.3" y="55.6" font-size="20.83" text-anchor="middle" fill="#00204e" xml:space="preserve">2025-12-14 18 UTC  (2025-12-14 11 MST)</text>
<clipPath id="ch2"><rect x="690.25" y="82.37" width="189" height="189"/></clipPath>
<g clip-path="url(#ch2)">
<path d="M784.75 200.5 A23.62 23.62 0 0 0 808.38 176.87 A23.62 23.62 0 0 0 784.75 153.25 A23.62 23.62 0 0 0 761.12 176.87 A23.62 23.62 0 0 0 784.75 200.5" fill="none" stroke="#808080" stroke-width="1.39" stroke-dasharray="5.14 2.22"/>
<path d="M784.75 224.12 A47.25 47.25 0 0 0 832 176.87 A47.25 47.25 0 0 0 784.75 129.62 A47.25 47.25 0 0 0 737.5 176.87 A47.25 47.25 0 0 0 784.75 224.12" fill="none" stroke="#808080" stroke-width="1.39" stroke-dasharray="5.14 2.22"/>
<path d="M784.75 247.75 A70.88 70.88 0 0 0 855.62 176.87 A70.88 70.88 0 0 0 784.75 106 A70.88 70.88 0 0 0 713.88 176.87 A70.88 70.88 0 0 0 784.75 247.75" fill="none" stroke="#808080" stroke-width="1.39" stroke-dasharray="5.14 2.22"/>
<path d="M784.75 271.37 A94.5 94.5 0 0 0 879.25 176.87 A94.5 94.5 0 0 0 784.75 82.37 A94.5 94.5 0 0 0 690.25 176.87 A94.5 94.5 0 0 0 784.75 271.37" fill="none" stroke="#808080" stroke-width="1.39" stroke-dasharray="5.14 2.22"/>
<path d="M784.75 295 A118.12 118.12 0 0 0 902.88 176.87 A118.12 118.12 0 0 0 784.75 58.75 A118.12 118.12 0 0 0 666.62 176.87 A118.12 118.12 0 0 0 784.75 295" fill="none" stroke="#808080" stroke-width="1.39" stroke-dasharray="5.14 2.22"/>
<line x1="785" y1="271.37" x2="785" y2="82.37" stroke="#808080" stroke-width="2.08" stroke-dasharray="7.71 3.33"/>
<line x1="690.25" y1="177" x2="879.25" y2="177" stroke="#808080" stroke-width="2.08" stroke-dasharray="7.71 3.33"/>
<line x1="799.63" y1="173.92" x2="802.91" y2="174.61" stroke="#000086" stroke-width="4.6"/>
<line x1="802.91" y1="174.61" x2="806.19" y2="175.29" stroke="#000094" stroke-width="4.6"/>
<line x1="806.19" y1="175.29" x2="809.47" y2="175.91" stroke="#0000a2" stroke-width="4.6"/>
<line x1="809.47" y1="175.91" x2="812.7" y2="175.68" stroke="#0000b0" stroke-width="4.6"/>
<line x1="812.7" y1="175.68" x2="815.93" y2="175.45" stroke="#0000be" stroke-width="4.6"/>
<line x1="815.93" y1="175.45" x2="813.55" y2="176.81" stroke="#0000cc" stroke-width="4.6"/>
<line x1="813.55" y1="176.81" x2="811.17" y2="178.17" stroke="#0000da" stroke-width="4.6"/>
<line x1="811.17" y1="178.17" x2="810.23" y2="180.37" stroke="#0000e8" stroke-width="4.6"/>
<line x1="810.23" y1="180.37" x2="809.42" y2="182.63" stroke="#0000f6" stroke-width="4.6"/>
<line x1="809.42" y1="182.63" x2="808.61" y2="184.9" stroke="#0000ff" stroke-width="4.6"/>
<line x1="808.61" y1="184.9" x2="808.1" y2="186.72" stroke="#0001ff" stroke-width="4.6"/>
<line x1="808.1" y1="186.72" x2="807.59" y2="188.53" stroke="#000dff" stroke-width="4.6"/>
<line x1="807.59" y1="188.53" x2="807.08" y2="190.35" stroke="#0019ff" stroke-width="4.6"/>
<line x1="807.08" y1="190.35" x2="806.57" y2="192.16" stroke="#0026ff" stroke-width="4.6"/>
<line x1="806.57" y1="192.16" x2="806.25" y2="194.02" stroke="#0032ff" stroke-width="4.6"/>
<line x1="806.25" y1="194.02" x2="805.97" y2="195.89" stroke="#003eff" stroke-width="4.6"/>
<line x1="805.97" y1="195.89" x2="805.68" y2="197.76" stroke="#004aff" stroke-width="4.6"/>
<line x1="805.68" y1="197.76" x2="805.4" y2="199.64" stroke="#0057ff" stroke-width="4.6"/>
<line x1="805.4" y1="199.64" x2="805.83" y2="201.2" stroke="#0063ff" stroke-width="4.6"/>
<line x1="805.83" y1="201.2" x2="806.63" y2="202.62" stroke="#006fff" stroke-width="4.6"/>
<line x1="806.63" y1="202.62" x2="807.42" y2="204.04" stroke="#007bff" stroke-width="4.6"/>
<line x1="807.42" y1="204.04" x2="808.21" y2="205.46" stroke="#0088ff" stroke-width="4.6"/>
<line x1="808.21" y1="205.46" x2="809.49" y2="206.51" stroke="#0094ff" stroke-width="4.6"/>
<line x1="809.49" y1="206.51" x2="811.25" y2="207.19" stroke="#00a0ff" stroke-width="4.6"/>
<line x1="811.25" y1="207.19" x2="813.01" y2="207.87" stroke="#00acff" stroke-width="4.6"/>
<line x1="813.01" y1="207.87" x2="814.76" y2="208.55" stroke="#00b9ff" stroke-width="4.6"/>
<line x1="814.76" y1="208.55" x2="816.44" y2="209.08" stroke="#00c5ff" stroke-width="4.6"/>
<line x1="816.44" y1="209.08" x2="817.95" y2="209.31" stroke="#00d1ff" stroke-width="4.6"/>
<line x1="817.95" y1="209.31" x2="819.46" y2="209.55" stroke="#00ddfd" stroke-width="4.6"/>
<line x1="819.46" y1="209.55" x2="820.98" y2="209.79" stroke="#03eaf3" stroke-width="4.6"/>
<line x1="820.98" y1="209.79" x2="822.49" y2="210.02" stroke="#0df6ea" stroke-width="4.6"/>
<line x1="822.49" y1="210.02" x2="823.88" y2="210.19" stroke="#17ffe0" stroke-width="4.6"/>
<line x1="823.88" y1="210.19" x2="825.05" y2="210.23" stroke="#21ffd6" stroke-width="4.6"/>
<line x1="825.05" y1="210.23" x2="826.22" y2="210.26" stroke="#2bffcc" stroke-width="4.6"/>
<line x1="826.22" y1="210.26" x2="827.39" y2="210.3" stroke="#35ffc2" stroke-width="4.6"/>
<line x1="827.39" y1="210.3" x2="828.56" y2="210.33" stroke="#3fffb8" stroke-width="4.6"/>
<line x1="828.56" y1="210.33" x2="829.73" y2="210.37" stroke="#48ffae" stroke-width="4.6"/>
<line x1="829.73" y1="210.37" x2="830.9" y2="210.41" stroke="#52ffa5" stroke-width="4.6"/>
<line x1="830.9" y1="210.41" x2="831.83" y2="210.2" stroke="#5cff9b" stroke-width="4.6"/>
<line x1="831.83" y1="210.2" x2="832.64" y2="209.88" stroke="#66ff91" stroke-width="4.6"/>
<line x1="832.64" y1="209.88" x2="833.45" y2="209.55" stroke="#70ff87" stroke-width="4.6"/>
<line x1="833.45" y1="209.55" x2="834.26" y2="209.23" stroke="#7aff7d" stroke-width="4.6"/>
<line x1="834.26" y1="209.23" x2="835.07" y2="208.91" stroke="#84ff73" stroke-width="4.6"/>
<line x1="835.07" y1="208.91" x2="835.88" y2="208.58" stroke="#8dff69" stroke-width="4.6"/>
<line x1="835.88" y1="208.58" x2="835.7" y2="207.82" stroke="#97ff5f" stroke-width="4.6"/>
<line x1="835.7" y1="207.82" x2="835.32" y2="206.97" stroke="#a1ff56" stroke-width="4.6"/>
<line x1="835.32" y1="206.97" x2="834.95" y2="206.12" stroke="#abff4c" stroke-width="4.6"/>
<line x1="834.95" y1="206.12" x2="834.57" y2="205.27" stroke="#b5ff42" stroke-width="4.6"/>
<line x1="834.57" y1="205.27" x2="834.19" y2="204.42" stroke="#bfff38" stroke-width="4.6"/>
<line x1="834.19" y1="204.42" x2="833.55" y2="203.9" stroke="#c9ff2e" stroke-width="4.6"/>
<line x1="833.55" y1="203.9" x2="832.86" y2="203.46" stroke="#d3ff24" stroke-width="4.6"/>
<line x1="832.86" y1="203.46" x2="832.18" y2="203.01" stroke="#dcff1a" stroke-width="4.6"/>
<line x1="832.18" y1="203.01" x2="831.49" y2="202.57" stroke="#e6ff10" stroke-width="4.6"/>
<line x1="831.49" y1="202.57" x2="830.8" y2="202.12" stroke="#f0fd07" stroke-width="4.6"/>
<line x1="830.8" y1="202.12" x2="830.11" y2="201.68" stroke="#faf200" stroke-width="4.6"/>
<line x1="830.11" y1="201.68" x2="829.57" y2="201.8" stroke="#ffe600" stroke-width="4.6"/>
<line x1="829.57" y1="201.8" x2="829.04" y2="201.93" stroke="#ffdb00" stroke-width="4.6"/>
<line x1="829.04" y1="201.93" x2="828.5" y2="202.05" stroke="#ffd000" stroke-width="4.6"/>
<line x1="828.5" y1="202.05" x2="827.97" y2="202.18" stroke="#ffc400" stroke-width="4.6"/>
<line x1="827.97" y1="202.18" x2="827.43" y2="202.31" stroke="#ffb900" stroke-width="4.6"/>
<line x1="827.43" y1="202.31" x2="826.9" y2="202.43" stroke="#ffae00" stroke-width="4.6"/>
<line x1="826.9" y1="202.43" x2="826.36" y2="202.56" stroke="#ffa200" stroke-width="4.6"/>
<line x1="826.36" y1="202.56" x2="826.15" y2="202.76" stroke="#ff9700" stroke-width="4.6"/>
<line x1="826.15" y1="202.76" x2="826.25" y2="203.05" stroke="#ff8c00" stroke-width="4.6"/>
<line x1="826.25" y1="203.05" x2="826.36" y2="203.33" stroke="#ff8000" stroke-width="4.6"/>
<line x1="826.36" y1="203.33" x2="826.47" y2="203.61" stroke="#ff7500" stroke-width="4.6"/>
<line x1="826.47" y1="203.61" x2="826.57" y2="203.9" stroke="#ff6a00" stroke-width="4.6"/>
<line x1="826.57" y1="203.9" x2="826.68" y2="204.18" stroke="#ff5e00" stroke-width="4.6"/>
<line x1="826.68" y1="204.18" x2="826.78" y2="204.46" stroke="#ff5300" stroke-width="4.6"/>
<line x1="826.78" y1="204.46" x2="827.08" y2="204.67" stroke="#ff4800" stroke-width="4.6"/>
<line x1="827.08" y1="204.67" x2="827.41" y2="204.86" stroke="#ff3c00" stroke-width="4.6"/>
<line x1="827.41" y1="204.86" x2="827.74" y2="205.05" stroke="#ff3100" stroke-width="4.6"/>
<line x1="827.74" y1="205.05" x2="828.07" y2="205.24" stroke="#ff2600" stroke-width="4.6"/>
<line x1="828.07" y1="205.24" x2="828.4" y2="205.42" stroke="#ff1a00" stroke-width="4.6"/>
<line x1="828.4" y1="205.42" x2="828.87" y2="205.75" stroke="#fa0f00" stroke-width="4.6"/>
<line x1="828.87" y1="205.75" x2="829.37" y2="206.11" stroke="#ec0400" stroke-width="4.6"/>
<line x1="829.37" y1="206.11" x2="829.86" y2="206.46" stroke="#df0000" stroke-width="4.6"/>
</g>
<rect x="690.5" y="268.85" width="95" height="2.65" fill="#00204e"/>
<line x1="690.5" y1="81.94" x2="690.5" y2="271.5" stroke="#00204e" stroke-width="1.11"/>
<line x1="689.94" y1="271.5" x2="880.06" y2="271.5" stroke="#00204e" stroke-width="1.11"/>
<line x1="690.5" y1="271.5" x2="690.5" y2="276.36" stroke="#00204e" stroke-width="1.11"/>
<text x="690.5" y="291.82" font-size="13.89" text-anchor="middle" fill="#00204e" >−40</text>
<line x1="685.64" y1="271.5" x2="690.5" y2="271.5" stroke="#00204e" stroke-width="1.11"/>
<text x="679.98" y="276.5" font-size="13.89" text-anchor="end" fill="#00204e" >−40</text>
<line x1="738.5" y1="271.5" x2="738.5" y2="276.36" stroke="#00204e" stroke-width="1.11"/>
<text x="738.5" y="291.82" font-size="13.89" text-anchor="middle" fill="#00204e" >−20</text>
<line x1="685.64" y1="224.5" x2="690.5" y2="224.5" stroke="#00204e" stroke-width="1.11"/>
<text x="679.98" y="229.5" font-size="13.89" text-anchor="end" fill="#00204e" >−20</text>
<line x1="785.5" y1="271.5" x2="785.5" y2="276.36" stroke="#00204e" stroke-width="1.11"/>
<text x="785.5" y="291.82" font-size="13.89" text-anchor="middle" fill="#00204e" >0</text>
<line x1="685.64" y1="177.5" x2="690.5" y2="177.5" stroke="#00204e" stroke-width="1.11"/>
<text x="679.98" y="182.5" font-size="13.89" text-anchor="end" fill="#00204e" >0</text>
<line x1="832.5" y1="271.5" x2="832.5" y2="276.36" stroke="#00204e" stroke-width="1.11"/>
<text x="832.5" y="291.82" font-size="13.89" text-anchor="middle" fill="#00204e" >20</text>
<line x1="685.64" y1="130.5" x2="690.5" y2="130.5" stroke="#00204e" stroke-width="1.11"/>
<text x="679.98" y="135.5" font-size="13.89" text-anchor="end" fill="#00204e" >20</text>
<line x1="879.5" y1="271.5" x2="879.5" y2="276.36" stroke="#00204e" stroke-width="1.11"/>
<text x="879.5" y="291.82" font-size="13.89" text-anchor="middle" fill="#00204e" >40</text>
<line x1="685.64" y1="82.5" x2="690.5" y2="82.5" stroke="#00204e" stroke-width="1.11"/>
<text x="679.98" y="87.5" font-size="13.89" text-anchor="end" fill="#00204e" >40</text>
<text x="784.75" y="307" font-size="13.89" text-anchor="middle" fill="#00204e" >u (m s<tspan font-size="9.72" dy="-5">−1</tspan><tspan dy="5">)</tspan></text>
<text x="648.5" y="176.65" font-size="13.89" text-anchor="middle" fill="#00204e" transform="rotate(-90 648.5 176.65)">v (m s<tspan font-size="9.72" dy="-5">−1</tspan><tspan dy="5">)</tspan></text>
<linearGradient id="jet" x1="0" y1="0" x2="1" y2="0"><stop offset="0" stop-color="#000080"/><stop offset="0.11" stop-color="#0000ff"/><stop offset="0.125" stop-color="#0000ff"/><stop offset="0.34" stop-color="#00dbff"/><stop offset="0.35" stop-color="#00e5f7"/><stop offset="0.375" stop-color="#15ffe2"/><stop offset="0.64" stop-color="#efff08"/><stop offset="0.65" stop-color="#f7f600"/><stop offset="0.66" stop-color="#ffec00"/><stop offset="0.89" stop-color="#ff1300"/><stop offset="0.91" stop-color="#e80000"/><stop offset="1.0" stop-color="#800000"/></linearGradient>
<rect x="650.5" y="312.5" width="270" height="13" fill="url(#jet)" stroke="#00204e" stroke-width="1.11"/>
<line x1="650.5" y1="325.5" x2="650.5" y2="330.36" stroke="#00204e" stroke-width="1.11"/>
<text x="650.5" y="345.82" font-size="13.89" text-anchor="middle" fill="#00204e" >0</text>
<line x1="704.5" y1="325.5" x2="704.5" y2="330.36" stroke="#00204e" stroke-width="1.11"/>
<text x="704.5" y="345.82" font-size="13.89" text-anchor="middle" fill="#00204e" >2</text>
<line x1="758.5" y1="325.5" x2="758.5" y2="330.36" stroke="#00204e" stroke-width="1.11"/>
<text x="758.5" y="345.82" font-size="13.89" text-anchor="middle" fill="#00204e" >4</text>
<line x1="812.5" y1="325.5" x2="812.5" y2="330.36" stroke="#00204e" stroke-width="1.11"/>
<text x="812.5" y="345.82" font-size="13.89" text-anchor="middle" fill="#00204e" >6</text>
<line x1="866.5" y1="325.5" x2="866.5" y2="330.36" stroke="#00204e" stroke-width="1.11"/>
<text x="866.5" y="345.82" font-size="13.89" text-anchor="middle" fill="#00204e" >8</text>
<line x1="920.5" y1="325.5" x2="920.5" y2="330.36" stroke="#00204e" stroke-width="1.11"/>
<text x="920.5" y="345.82" font-size="13.89" text-anchor="middle" fill="#00204e" >10</text>
<text x="785.5" y="366" font-size="13.89" text-anchor="middle" fill="#00204e" >Height (km AGL)</text></svg>
</body></html>
